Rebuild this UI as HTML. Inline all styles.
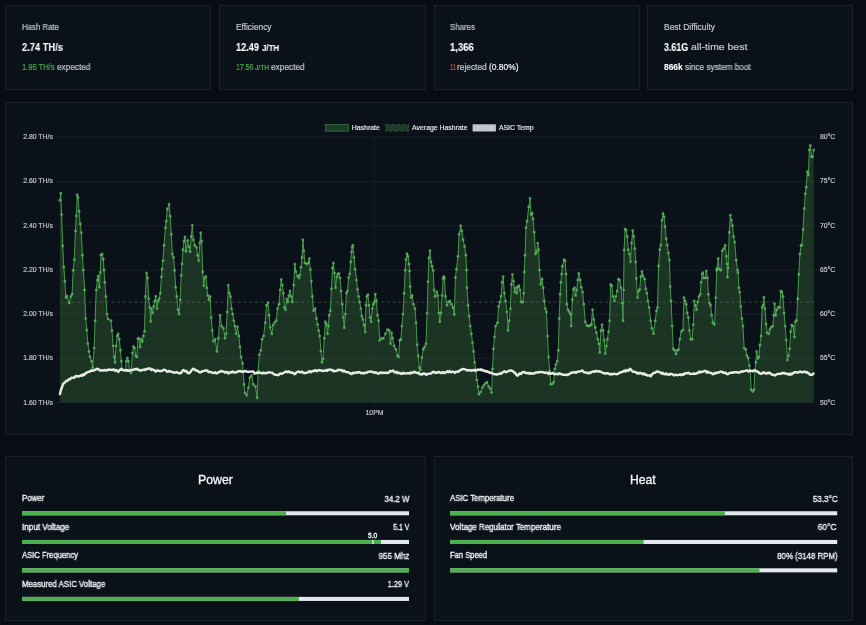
<!DOCTYPE html>
<html lang="en"><head><meta charset="utf-8"><title>AxeOS Dashboard</title>
<style>
html,body{margin:0;padding:0;}
body{width:866px;height:625px;overflow:hidden;background:#070c15;position:relative;font-family:"Liberation Sans",sans-serif;}
.card{position:absolute;box-sizing:border-box;background:#0b1119;border:1px solid #1a212c;border-radius:0;}
.tx{position:absolute;white-space:nowrap;line-height:1;display:block;-webkit-text-stroke:0.18px currentColor;will-change:transform;}
.chart{position:absolute;left:0;top:0;will-change:transform;}
.chart text{font-family:"Liberation Sans",sans-serif;stroke-width:0.18px;}
.bar{position:absolute;background:#e4e8ec;overflow:hidden;}
.bar .fill{position:absolute;left:0;top:0;bottom:0;background:#4caf50;}
.bar .tick{position:absolute;top:0;bottom:0;width:1.4px;background:#d9f2da;}
</style></head><body>

<div class="card" style="left:5.0px;top:5px;width:206.0px;height:85px"></div>
<div class="card" style="left:219.0px;top:5px;width:207.0px;height:85px"></div>
<div class="card" style="left:434.0px;top:5px;width:206.0px;height:85px"></div>
<div class="card" style="left:647.0px;top:5px;width:206.0px;height:85px"></div>
<div class="card" style="left:5px;top:102px;width:848px;height:333px"></div>
<div class="card" style="left:5px;top:456px;width:421px;height:165px"></div>
<div class="card" style="left:434px;top:456px;width:419px;height:165px"></div>
<svg class="chart" width="866" height="625" viewBox="0 0 866 625">
<line x1="55.3" y1="137.20" x2="818.6" y2="137.20" stroke="#19212b" stroke-width="0.8"/>
<line x1="55.3" y1="181.43" x2="818.6" y2="181.43" stroke="#19212b" stroke-width="0.8"/>
<line x1="55.3" y1="225.67" x2="818.6" y2="225.67" stroke="#19212b" stroke-width="0.8"/>
<line x1="55.3" y1="269.90" x2="818.6" y2="269.90" stroke="#19212b" stroke-width="0.8"/>
<line x1="55.3" y1="314.13" x2="818.6" y2="314.13" stroke="#19212b" stroke-width="0.8"/>
<line x1="55.3" y1="358.37" x2="818.6" y2="358.37" stroke="#19212b" stroke-width="0.8"/>
<line x1="55.3" y1="402.60" x2="818.6" y2="402.60" stroke="#19212b" stroke-width="0.8"/>
<line x1="374.3" y1="137.2" x2="374.3" y2="407.2" stroke="#19212b" stroke-width="0.8"/>
<path d="M59.9,402.6 L59.9,200.3 L60.8,193.3 L61.6,214.6 L62.7,246.0 L63.8,267.2 L64.9,281.2 L66.0,297.6 L67.0,296.0 L69.3,303.0 L70.8,296.5 L72.1,294.3 L73.2,270.3 L74.3,259.6 L75.4,231.0 L76.3,215.7 L77.2,194.8 L78.0,197.5 L79.1,211.3 L80.2,224.0 L81.3,232.6 L82.4,255.2 L83.3,270.0 L84.6,290.0 L85.7,318.5 L86.8,329.9 L87.9,343.7 L89.0,351.4 L90.1,356.9 L91.6,361.2 L92.7,367.8 L94.1,348.1 L95.1,320.7 L96.2,290.0 L97.3,280.0 L98.2,276.0 L99.3,287.3 L100.2,272.5 L101.0,255.0 L102.2,254.0 L103.3,259.0 L104.0,270.0 L104.8,282.3 L105.9,296.5 L107.0,314.1 L108.1,318.9 L111.0,320.7 L112.0,330.5 L113.1,345.9 L114.2,356.9 L115.1,362.3 L116.0,345.9 L117.1,336.0 L118.2,333.8 L119.3,339.3 L120.4,350.3 L121.3,361.2 L122.4,370.0 L125.2,370.0 L126.3,361.2 L127.4,358.0 L128.5,361.2 L129.6,370.0 L131.1,372.9 L132.4,353.1 L133.5,346.5 L134.6,348.1 L135.7,355.8 L136.8,356.9 L137.9,338.6 L139.0,338.2 L140.1,347.0 L141.2,339.3 L142.3,341.5 L143.4,336.0 L144.5,331.2 L145.4,296.5 L146.5,273.0 L147.6,277.9 L148.7,298.7 L149.8,307.5 L150.7,321.3 L151.5,308.6 L152.6,313.0 L153.7,306.4 L154.8,300.9 L155.9,296.1 L157.0,308.6 L158.1,300.9 L159.2,298.7 L160.3,293.2 L161.4,276.8 L162.0,269.0 L163.0,260.7 L164.0,245.3 L165.4,227.8 L166.2,221.2 L167.3,209.1 L169.1,204.1 L170.2,216.3 L171.3,234.3 L172.4,254.1 L173.5,257.4 L174.6,270.3 L175.7,287.3 L176.8,296.5 L177.9,309.7 L179.0,314.1 L180.1,299.8 L181.2,275.4 L182.0,264.0 L182.9,249.7 L184.0,241.0 L184.9,237.0 L186.0,251.2 L187.7,240.3 L188.8,246.8 L190.1,251.9 L191.2,236.5 L192.3,225.1 L193.4,239.8 L194.8,245.3 L196.5,247.5 L197.6,255.2 L198.7,260.7 L199.8,243.1 L200.7,232.8 L201.6,241.0 L202.7,271.8 L203.8,285.6 L204.6,277.9 L205.9,276.5 L206.8,287.7 L207.9,295.4 L209.0,299.8 L210.1,296.5 L211.2,317.4 L212.3,330.5 L213.4,341.5 L215.2,339.3 L216.9,351.4 L218.4,338.2 L220.0,315.2 L221.7,326.1 L223.5,328.3 L225.0,338.2 L226.1,333.8 L227.2,311.9 L228.3,285.1 L229.4,293.2 L230.5,296.5 L231.6,308.6 L232.7,314.1 L233.8,320.7 L234.9,326.1 L236.2,333.8 L237.5,326.8 L238.9,336.0 L240.0,347.0 L241.0,356.9 L242.6,363.4 L244.1,384.3 L245.0,393.0 L246.8,395.2 L248.3,387.6 L249.8,377.7 L251.6,375.5 L253.3,384.3 L255.5,386.5 L257.1,397.9 L258.2,371.1 L259.3,354.7 L260.8,350.3 L262.1,339.3 L263.6,336.0 L265.2,322.8 L266.5,305.3 L268.0,302.7 L269.1,315.2 L270.2,327.2 L271.8,333.8 L273.1,325.0 L274.6,322.4 L276.2,320.7 L277.5,308.6 L279.0,304.2 L280.1,289.9 L281.2,279.4 L282.3,285.1 L283.4,293.2 L284.5,307.5 L285.6,309.7 L286.7,298.7 L287.8,302.0 L288.9,295.4 L290.0,291.0 L291.1,296.5 L292.4,302.0 L293.7,285.0 L294.8,264.0 L295.9,271.6 L297.7,276.2 L299.0,278.0 L299.8,275.0 L300.9,267.3 L302.0,257.4 L302.9,239.8 L303.8,250.8 L304.9,262.9 L306.9,264.0 L308.2,262.9 L309.3,258.5 L310.4,269.6 L311.3,281.2 L312.4,296.5 L313.5,310.8 L315.2,308.6 L316.5,318.5 L317.6,324.6 L318.7,330.5 L319.8,336.0 L320.9,350.9 L322.0,362.3 L323.1,359.0 L324.2,338.2 L325.3,321.8 L326.4,324.0 L327.5,333.8 L328.4,326.1 L329.2,315.2 L330.3,310.8 L331.4,288.8 L332.5,268.0 L333.4,262.9 L334.5,273.0 L335.6,287.7 L336.7,276.8 L337.8,274.0 L338.9,273.5 L340.0,277.9 L341.1,291.0 L342.2,304.2 L343.3,317.4 L344.2,327.7 L345.3,314.1 L346.4,293.2 L347.5,291.0 L348.6,277.5 L349.7,274.0 L350.7,262.0 L351.5,252.0 L352.1,247.5 L352.9,245.3 L354.0,257.4 L355.2,269.3 L356.5,280.1 L357.6,289.5 L358.6,296.5 L359.7,302.0 L360.8,308.6 L361.9,316.3 L363.0,319.6 L364.1,325.0 L365.2,332.1 L365.9,305.3 L366.8,296.5 L367.9,294.8 L369.0,305.3 L370.1,317.4 L371.2,321.8 L372.2,308.6 L373.3,304.2 L374.4,302.0 L375.3,294.3 L376.4,300.5 L377.5,315.2 L378.6,320.7 L379.7,340.4 L381.5,338.2 L383.2,338.6 L385.4,333.8 L387.6,329.4 L389.4,330.5 L390.5,343.7 L391.6,332.7 L392.7,338.2 L394.2,345.9 L395.9,349.2 L397.5,355.8 L398.6,356.9 L399.7,340.4 L400.8,339.3 L401.9,326.1 L403.0,314.1 L404.1,293.2 L405.2,270.3 L406.0,259.6 L406.9,253.6 L408.0,256.3 L409.1,264.0 L409.6,271.0 L410.2,286.6 L411.1,297.6 L412.2,295.4 L413.5,304.2 L415.0,308.6 L416.1,322.8 L417.2,344.8 L418.3,355.8 L419.4,367.8 L420.5,370.0 L421.8,357.5 L423.2,349.2 L424.5,347.0 L426.0,343.7 L427.1,313.0 L428.0,281.6 L428.9,258.0 L430.0,250.8 L431.0,261.8 L432.1,266.2 L433.2,270.5 L434.1,289.9 L435.0,296.5 L436.8,291.7 L437.9,295.4 L438.9,313.0 L439.8,321.8 L440.9,313.0 L442.0,295.4 L443.1,278.5 L443.8,276.5 L444.4,277.9 L445.5,296.5 L447.1,305.3 L448.6,302.0 L449.9,300.9 L451.5,304.2 L453.0,307.5 L454.3,314.5 L455.4,277.5 L456.4,269.2 L458.0,256.3 L459.1,234.3 L460.7,225.6 L461.8,231.0 L463.1,239.8 L464.6,246.4 L465.9,255.2 L466.6,270.0 L467.0,287.7 L468.1,305.3 L469.2,316.3 L470.3,326.1 L471.4,333.8 L472.5,342.6 L473.6,351.4 L474.7,362.3 L475.8,371.1 L476.9,379.9 L478.0,386.5 L478.9,394.2 L480.6,392.0 L482.2,387.6 L483.7,385.4 L485.5,383.2 L487.2,382.1 L488.7,386.5 L490.3,388.7 L491.6,392.6 L492.5,368.9 L493.4,348.7 L494.5,337.1 L495.5,326.1 L497.5,322.8 L498.6,306.4 L499.9,302.0 L501.0,296.1 L502.1,282.3 L503.2,276.6 L504.3,293.2 L505.6,300.9 L507.0,311.9 L508.1,330.5 L509.2,320.7 L510.3,308.6 L511.3,284.5 L512.4,274.4 L513.5,281.2 L514.6,292.1 L515.7,287.7 L516.8,293.2 L517.9,286.6 L519.0,285.6 L520.1,289.9 L521.2,302.0 L522.8,302.0 L523.7,293.2 L524.3,272.0 L525.0,255.2 L526.0,227.8 L527.1,221.2 L528.7,206.9 L530.0,198.1 L531.1,214.6 L532.2,213.0 L533.1,219.0 L534.2,232.2 L535.5,254.1 L536.6,251.9 L537.7,243.1 L538.6,249.7 L539.5,270.0 L540.7,284.5 L542.1,279.0 L543.2,287.7 L544.3,300.9 L545.4,308.6 L546.5,311.9 L547.5,336.0 L548.6,356.9 L549.7,371.1 L550.8,384.3 L552.4,383.8 L553.7,382.1 L554.8,368.9 L555.9,364.5 L557.2,361.2 L558.3,350.3 L559.2,318.5 L560.1,294.3 L560.9,282.3 L561.6,274.0 L562.3,266.2 L564.0,259.6 L565.1,260.7 L566.0,274.0 L566.9,304.2 L568.0,309.7 L569.3,311.9 L570.6,314.1 L571.2,326.1 L572.3,299.8 L573.4,289.5 L574.5,287.7 L575.6,295.4 L576.7,289.9 L577.8,280.0 L578.8,273.5 L580.2,280.0 L581.3,287.3 L582.7,292.1 L583.8,304.2 L585.3,321.8 L587.0,325.5 L588.6,326.1 L590.3,325.5 L591.4,324.0 L592.5,309.7 L593.8,319.6 L595.2,327.2 L596.5,332.7 L597.8,339.3 L598.9,343.7 L599.8,352.5 L600.9,330.5 L602.0,324.6 L603.1,330.5 L604.2,340.4 L605.3,353.6 L606.4,345.9 L607.4,339.3 L608.5,331.6 L609.6,320.7 L610.7,284.5 L611.8,285.6 L613.1,296.5 L614.5,300.9 L615.8,296.5 L617.1,291.0 L618.4,279.0 L619.7,280.1 L621.0,287.7 L622.1,303.1 L623.0,320.7 L623.6,289.9 L624.1,250.0 L625.0,228.9 L626.1,230.0 L627.2,236.5 L628.3,249.7 L629.4,254.1 L630.5,261.8 L631.6,243.1 L632.7,230.4 L633.8,236.5 L634.9,248.6 L635.7,262.0 L636.4,278.5 L637.5,297.6 L638.6,291.0 L639.7,289.5 L640.8,276.8 L641.9,271.4 L643.0,275.7 L644.7,279.0 L645.8,288.8 L646.9,293.2 L648.0,300.9 L649.1,307.5 L650.7,320.7 L652.0,328.3 L653.5,333.8 L655.3,320.7 L656.4,310.8 L657.5,307.5 L658.6,266.0 L659.7,249.7 L660.8,245.3 L661.9,220.1 L663.0,213.5 L664.1,216.8 L665.1,226.7 L666.2,238.7 L667.3,245.3 L668.4,253.0 L669.5,260.0 L670.2,286.6 L671.1,300.9 L672.2,326.1 L673.3,348.7 L674.6,350.3 L675.9,354.0 L677.2,350.3 L678.5,349.6 L679.8,339.3 L681.2,331.6 L682.9,329.9 L684.0,297.6 L685.1,300.9 L686.2,304.2 L687.3,313.0 L688.4,317.4 L689.5,330.5 L690.8,339.3 L692.1,339.3 L693.2,324.6 L694.3,300.9 L695.4,305.3 L696.5,309.7 L697.6,302.0 L698.9,296.5 L700.3,294.3 L701.1,282.3 L702.2,274.0 L702.9,272.7 L703.5,277.9 L705.1,277.9 L706.3,270.9 L707.5,277.9 L708.4,294.3 L709.5,303.1 L710.6,305.3 L711.7,315.2 L712.8,322.8 L714.5,324.6 L715.8,297.6 L716.7,270.2 L717.1,268.3 L718.2,258.5 L719.3,269.2 L720.9,270.3 L722.2,250.8 L723.7,248.6 L725.3,245.3 L726.4,256.3 L727.1,264.0 L727.5,277.2 L728.1,268.0 L729.2,232.2 L730.3,215.3 L731.4,220.1 L732.5,225.6 L733.6,236.5 L734.7,242.0 L736.2,260.2 L737.5,270.0 L738.0,272.4 L738.9,287.7 L739.7,292.1 L740.8,306.4 L741.9,318.5 L743.0,326.1 L744.1,348.1 L745.7,349.2 L747.0,355.8 L748.3,358.0 L749.4,365.6 L750.3,371.1 L751.2,389.8 L752.7,391.5 L754.0,389.8 L754.9,370.0 L755.8,362.3 L756.6,351.4 L757.9,358.4 L759.0,356.9 L759.9,345.2 L761.0,336.0 L762.1,307.5 L763.0,305.3 L763.9,297.2 L765.0,308.6 L766.1,324.0 L767.2,332.7 L768.7,333.8 L769.8,329.4 L771.1,327.2 L772.7,326.1 L773.8,315.2 L774.6,303.8 L775.7,315.2 L776.8,309.7 L778.1,307.1 L779.9,307.5 L780.8,291.0 L781.9,292.1 L783.0,296.5 L784.1,313.0 L785.2,326.1 L786.3,340.0 L787.4,360.1 L788.5,355.8 L789.6,348.7 L790.6,331.6 L791.7,325.0 L793.1,326.1 L794.4,337.1 L795.3,321.8 L796.6,320.2 L797.7,298.7 L798.8,274.2 L799.9,254.1 L801.0,245.3 L801.8,245.3 L803.1,229.5 L804.2,208.5 L805.3,193.8 L806.2,187.2 L807.3,171.8 L808.4,175.1 L809.3,149.9 L810.4,145.5 L811.5,156.5 L812.6,157.1 L813.7,149.9 L813.7,402.6 Z" fill="#58b24c" fill-opacity="0.22"/>
<line x1="59.9" y1="302.2" x2="814.0" y2="302.2" stroke="#7e9384" stroke-opacity="0.66" stroke-width="0.62" stroke-dasharray="2.87 2.87"/>
<path d="M59.9,200.3 L60.8,193.3 L61.6,214.6 L62.7,246.0 L63.8,267.2 L64.9,281.2 L66.0,297.6 L67.0,296.0 L69.3,303.0 L70.8,296.5 L72.1,294.3 L73.2,270.3 L74.3,259.6 L75.4,231.0 L76.3,215.7 L77.2,194.8 L78.0,197.5 L79.1,211.3 L80.2,224.0 L81.3,232.6 L82.4,255.2 L83.3,270.0 L84.6,290.0 L85.7,318.5 L86.8,329.9 L87.9,343.7 L89.0,351.4 L90.1,356.9 L91.6,361.2 L92.7,367.8 L94.1,348.1 L95.1,320.7 L96.2,290.0 L97.3,280.0 L98.2,276.0 L99.3,287.3 L100.2,272.5 L101.0,255.0 L102.2,254.0 L103.3,259.0 L104.0,270.0 L104.8,282.3 L105.9,296.5 L107.0,314.1 L108.1,318.9 L111.0,320.7 L112.0,330.5 L113.1,345.9 L114.2,356.9 L115.1,362.3 L116.0,345.9 L117.1,336.0 L118.2,333.8 L119.3,339.3 L120.4,350.3 L121.3,361.2 L122.4,370.0 L125.2,370.0 L126.3,361.2 L127.4,358.0 L128.5,361.2 L129.6,370.0 L131.1,372.9 L132.4,353.1 L133.5,346.5 L134.6,348.1 L135.7,355.8 L136.8,356.9 L137.9,338.6 L139.0,338.2 L140.1,347.0 L141.2,339.3 L142.3,341.5 L143.4,336.0 L144.5,331.2 L145.4,296.5 L146.5,273.0 L147.6,277.9 L148.7,298.7 L149.8,307.5 L150.7,321.3 L151.5,308.6 L152.6,313.0 L153.7,306.4 L154.8,300.9 L155.9,296.1 L157.0,308.6 L158.1,300.9 L159.2,298.7 L160.3,293.2 L161.4,276.8 L162.0,269.0 L163.0,260.7 L164.0,245.3 L165.4,227.8 L166.2,221.2 L167.3,209.1 L169.1,204.1 L170.2,216.3 L171.3,234.3 L172.4,254.1 L173.5,257.4 L174.6,270.3 L175.7,287.3 L176.8,296.5 L177.9,309.7 L179.0,314.1 L180.1,299.8 L181.2,275.4 L182.0,264.0 L182.9,249.7 L184.0,241.0 L184.9,237.0 L186.0,251.2 L187.7,240.3 L188.8,246.8 L190.1,251.9 L191.2,236.5 L192.3,225.1 L193.4,239.8 L194.8,245.3 L196.5,247.5 L197.6,255.2 L198.7,260.7 L199.8,243.1 L200.7,232.8 L201.6,241.0 L202.7,271.8 L203.8,285.6 L204.6,277.9 L205.9,276.5 L206.8,287.7 L207.9,295.4 L209.0,299.8 L210.1,296.5 L211.2,317.4 L212.3,330.5 L213.4,341.5 L215.2,339.3 L216.9,351.4 L218.4,338.2 L220.0,315.2 L221.7,326.1 L223.5,328.3 L225.0,338.2 L226.1,333.8 L227.2,311.9 L228.3,285.1 L229.4,293.2 L230.5,296.5 L231.6,308.6 L232.7,314.1 L233.8,320.7 L234.9,326.1 L236.2,333.8 L237.5,326.8 L238.9,336.0 L240.0,347.0 L241.0,356.9 L242.6,363.4 L244.1,384.3 L245.0,393.0 L246.8,395.2 L248.3,387.6 L249.8,377.7 L251.6,375.5 L253.3,384.3 L255.5,386.5 L257.1,397.9 L258.2,371.1 L259.3,354.7 L260.8,350.3 L262.1,339.3 L263.6,336.0 L265.2,322.8 L266.5,305.3 L268.0,302.7 L269.1,315.2 L270.2,327.2 L271.8,333.8 L273.1,325.0 L274.6,322.4 L276.2,320.7 L277.5,308.6 L279.0,304.2 L280.1,289.9 L281.2,279.4 L282.3,285.1 L283.4,293.2 L284.5,307.5 L285.6,309.7 L286.7,298.7 L287.8,302.0 L288.9,295.4 L290.0,291.0 L291.1,296.5 L292.4,302.0 L293.7,285.0 L294.8,264.0 L295.9,271.6 L297.7,276.2 L299.0,278.0 L299.8,275.0 L300.9,267.3 L302.0,257.4 L302.9,239.8 L303.8,250.8 L304.9,262.9 L306.9,264.0 L308.2,262.9 L309.3,258.5 L310.4,269.6 L311.3,281.2 L312.4,296.5 L313.5,310.8 L315.2,308.6 L316.5,318.5 L317.6,324.6 L318.7,330.5 L319.8,336.0 L320.9,350.9 L322.0,362.3 L323.1,359.0 L324.2,338.2 L325.3,321.8 L326.4,324.0 L327.5,333.8 L328.4,326.1 L329.2,315.2 L330.3,310.8 L331.4,288.8 L332.5,268.0 L333.4,262.9 L334.5,273.0 L335.6,287.7 L336.7,276.8 L337.8,274.0 L338.9,273.5 L340.0,277.9 L341.1,291.0 L342.2,304.2 L343.3,317.4 L344.2,327.7 L345.3,314.1 L346.4,293.2 L347.5,291.0 L348.6,277.5 L349.7,274.0 L350.7,262.0 L351.5,252.0 L352.1,247.5 L352.9,245.3 L354.0,257.4 L355.2,269.3 L356.5,280.1 L357.6,289.5 L358.6,296.5 L359.7,302.0 L360.8,308.6 L361.9,316.3 L363.0,319.6 L364.1,325.0 L365.2,332.1 L365.9,305.3 L366.8,296.5 L367.9,294.8 L369.0,305.3 L370.1,317.4 L371.2,321.8 L372.2,308.6 L373.3,304.2 L374.4,302.0 L375.3,294.3 L376.4,300.5 L377.5,315.2 L378.6,320.7 L379.7,340.4 L381.5,338.2 L383.2,338.6 L385.4,333.8 L387.6,329.4 L389.4,330.5 L390.5,343.7 L391.6,332.7 L392.7,338.2 L394.2,345.9 L395.9,349.2 L397.5,355.8 L398.6,356.9 L399.7,340.4 L400.8,339.3 L401.9,326.1 L403.0,314.1 L404.1,293.2 L405.2,270.3 L406.0,259.6 L406.9,253.6 L408.0,256.3 L409.1,264.0 L409.6,271.0 L410.2,286.6 L411.1,297.6 L412.2,295.4 L413.5,304.2 L415.0,308.6 L416.1,322.8 L417.2,344.8 L418.3,355.8 L419.4,367.8 L420.5,370.0 L421.8,357.5 L423.2,349.2 L424.5,347.0 L426.0,343.7 L427.1,313.0 L428.0,281.6 L428.9,258.0 L430.0,250.8 L431.0,261.8 L432.1,266.2 L433.2,270.5 L434.1,289.9 L435.0,296.5 L436.8,291.7 L437.9,295.4 L438.9,313.0 L439.8,321.8 L440.9,313.0 L442.0,295.4 L443.1,278.5 L443.8,276.5 L444.4,277.9 L445.5,296.5 L447.1,305.3 L448.6,302.0 L449.9,300.9 L451.5,304.2 L453.0,307.5 L454.3,314.5 L455.4,277.5 L456.4,269.2 L458.0,256.3 L459.1,234.3 L460.7,225.6 L461.8,231.0 L463.1,239.8 L464.6,246.4 L465.9,255.2 L466.6,270.0 L467.0,287.7 L468.1,305.3 L469.2,316.3 L470.3,326.1 L471.4,333.8 L472.5,342.6 L473.6,351.4 L474.7,362.3 L475.8,371.1 L476.9,379.9 L478.0,386.5 L478.9,394.2 L480.6,392.0 L482.2,387.6 L483.7,385.4 L485.5,383.2 L487.2,382.1 L488.7,386.5 L490.3,388.7 L491.6,392.6 L492.5,368.9 L493.4,348.7 L494.5,337.1 L495.5,326.1 L497.5,322.8 L498.6,306.4 L499.9,302.0 L501.0,296.1 L502.1,282.3 L503.2,276.6 L504.3,293.2 L505.6,300.9 L507.0,311.9 L508.1,330.5 L509.2,320.7 L510.3,308.6 L511.3,284.5 L512.4,274.4 L513.5,281.2 L514.6,292.1 L515.7,287.7 L516.8,293.2 L517.9,286.6 L519.0,285.6 L520.1,289.9 L521.2,302.0 L522.8,302.0 L523.7,293.2 L524.3,272.0 L525.0,255.2 L526.0,227.8 L527.1,221.2 L528.7,206.9 L530.0,198.1 L531.1,214.6 L532.2,213.0 L533.1,219.0 L534.2,232.2 L535.5,254.1 L536.6,251.9 L537.7,243.1 L538.6,249.7 L539.5,270.0 L540.7,284.5 L542.1,279.0 L543.2,287.7 L544.3,300.9 L545.4,308.6 L546.5,311.9 L547.5,336.0 L548.6,356.9 L549.7,371.1 L550.8,384.3 L552.4,383.8 L553.7,382.1 L554.8,368.9 L555.9,364.5 L557.2,361.2 L558.3,350.3 L559.2,318.5 L560.1,294.3 L560.9,282.3 L561.6,274.0 L562.3,266.2 L564.0,259.6 L565.1,260.7 L566.0,274.0 L566.9,304.2 L568.0,309.7 L569.3,311.9 L570.6,314.1 L571.2,326.1 L572.3,299.8 L573.4,289.5 L574.5,287.7 L575.6,295.4 L576.7,289.9 L577.8,280.0 L578.8,273.5 L580.2,280.0 L581.3,287.3 L582.7,292.1 L583.8,304.2 L585.3,321.8 L587.0,325.5 L588.6,326.1 L590.3,325.5 L591.4,324.0 L592.5,309.7 L593.8,319.6 L595.2,327.2 L596.5,332.7 L597.8,339.3 L598.9,343.7 L599.8,352.5 L600.9,330.5 L602.0,324.6 L603.1,330.5 L604.2,340.4 L605.3,353.6 L606.4,345.9 L607.4,339.3 L608.5,331.6 L609.6,320.7 L610.7,284.5 L611.8,285.6 L613.1,296.5 L614.5,300.9 L615.8,296.5 L617.1,291.0 L618.4,279.0 L619.7,280.1 L621.0,287.7 L622.1,303.1 L623.0,320.7 L623.6,289.9 L624.1,250.0 L625.0,228.9 L626.1,230.0 L627.2,236.5 L628.3,249.7 L629.4,254.1 L630.5,261.8 L631.6,243.1 L632.7,230.4 L633.8,236.5 L634.9,248.6 L635.7,262.0 L636.4,278.5 L637.5,297.6 L638.6,291.0 L639.7,289.5 L640.8,276.8 L641.9,271.4 L643.0,275.7 L644.7,279.0 L645.8,288.8 L646.9,293.2 L648.0,300.9 L649.1,307.5 L650.7,320.7 L652.0,328.3 L653.5,333.8 L655.3,320.7 L656.4,310.8 L657.5,307.5 L658.6,266.0 L659.7,249.7 L660.8,245.3 L661.9,220.1 L663.0,213.5 L664.1,216.8 L665.1,226.7 L666.2,238.7 L667.3,245.3 L668.4,253.0 L669.5,260.0 L670.2,286.6 L671.1,300.9 L672.2,326.1 L673.3,348.7 L674.6,350.3 L675.9,354.0 L677.2,350.3 L678.5,349.6 L679.8,339.3 L681.2,331.6 L682.9,329.9 L684.0,297.6 L685.1,300.9 L686.2,304.2 L687.3,313.0 L688.4,317.4 L689.5,330.5 L690.8,339.3 L692.1,339.3 L693.2,324.6 L694.3,300.9 L695.4,305.3 L696.5,309.7 L697.6,302.0 L698.9,296.5 L700.3,294.3 L701.1,282.3 L702.2,274.0 L702.9,272.7 L703.5,277.9 L705.1,277.9 L706.3,270.9 L707.5,277.9 L708.4,294.3 L709.5,303.1 L710.6,305.3 L711.7,315.2 L712.8,322.8 L714.5,324.6 L715.8,297.6 L716.7,270.2 L717.1,268.3 L718.2,258.5 L719.3,269.2 L720.9,270.3 L722.2,250.8 L723.7,248.6 L725.3,245.3 L726.4,256.3 L727.1,264.0 L727.5,277.2 L728.1,268.0 L729.2,232.2 L730.3,215.3 L731.4,220.1 L732.5,225.6 L733.6,236.5 L734.7,242.0 L736.2,260.2 L737.5,270.0 L738.0,272.4 L738.9,287.7 L739.7,292.1 L740.8,306.4 L741.9,318.5 L743.0,326.1 L744.1,348.1 L745.7,349.2 L747.0,355.8 L748.3,358.0 L749.4,365.6 L750.3,371.1 L751.2,389.8 L752.7,391.5 L754.0,389.8 L754.9,370.0 L755.8,362.3 L756.6,351.4 L757.9,358.4 L759.0,356.9 L759.9,345.2 L761.0,336.0 L762.1,307.5 L763.0,305.3 L763.9,297.2 L765.0,308.6 L766.1,324.0 L767.2,332.7 L768.7,333.8 L769.8,329.4 L771.1,327.2 L772.7,326.1 L773.8,315.2 L774.6,303.8 L775.7,315.2 L776.8,309.7 L778.1,307.1 L779.9,307.5 L780.8,291.0 L781.9,292.1 L783.0,296.5 L784.1,313.0 L785.2,326.1 L786.3,340.0 L787.4,360.1 L788.5,355.8 L789.6,348.7 L790.6,331.6 L791.7,325.0 L793.1,326.1 L794.4,337.1 L795.3,321.8 L796.6,320.2 L797.7,298.7 L798.8,274.2 L799.9,254.1 L801.0,245.3 L801.8,245.3 L803.1,229.5 L804.2,208.5 L805.3,193.8 L806.2,187.2 L807.3,171.8 L808.4,175.1 L809.3,149.9 L810.4,145.5 L811.5,156.5 L812.6,157.1 L813.7,149.9" fill="none" stroke="#4caf50" stroke-opacity="0.85" stroke-width="1.0" stroke-linejoin="round"/>
<g fill="#5cb860" fill-opacity="0.75" stroke="#74c878" stroke-opacity="0.65" stroke-width="0.4">
<circle cx="59.9" cy="200.3" r="1.2"/>
<circle cx="60.8" cy="193.3" r="1.2"/>
<circle cx="61.6" cy="214.6" r="1.2"/>
<circle cx="62.7" cy="246.0" r="1.2"/>
<circle cx="63.8" cy="267.2" r="1.2"/>
<circle cx="64.9" cy="281.2" r="1.2"/>
<circle cx="66.0" cy="297.6" r="1.2"/>
<circle cx="67.0" cy="296.0" r="1.2"/>
<circle cx="69.3" cy="303.0" r="1.2"/>
<circle cx="70.8" cy="296.5" r="1.2"/>
<circle cx="72.1" cy="294.3" r="1.2"/>
<circle cx="73.2" cy="270.3" r="1.2"/>
<circle cx="74.3" cy="259.6" r="1.2"/>
<circle cx="75.4" cy="231.0" r="1.2"/>
<circle cx="76.3" cy="215.7" r="1.2"/>
<circle cx="77.2" cy="194.8" r="1.2"/>
<circle cx="78.0" cy="197.5" r="1.2"/>
<circle cx="79.1" cy="211.3" r="1.2"/>
<circle cx="80.2" cy="224.0" r="1.2"/>
<circle cx="81.3" cy="232.6" r="1.2"/>
<circle cx="82.4" cy="255.2" r="1.2"/>
<circle cx="83.3" cy="270.0" r="1.2"/>
<circle cx="84.6" cy="290.0" r="1.2"/>
<circle cx="85.7" cy="318.5" r="1.2"/>
<circle cx="86.8" cy="329.9" r="1.2"/>
<circle cx="87.9" cy="343.7" r="1.2"/>
<circle cx="89.0" cy="351.4" r="1.2"/>
<circle cx="90.1" cy="356.9" r="1.2"/>
<circle cx="91.6" cy="361.2" r="1.2"/>
<circle cx="92.7" cy="367.8" r="1.2"/>
<circle cx="94.1" cy="348.1" r="1.2"/>
<circle cx="95.1" cy="320.7" r="1.2"/>
<circle cx="96.2" cy="290.0" r="1.2"/>
<circle cx="97.3" cy="280.0" r="1.2"/>
<circle cx="98.2" cy="276.0" r="1.2"/>
<circle cx="99.3" cy="287.3" r="1.2"/>
<circle cx="100.2" cy="272.5" r="1.2"/>
<circle cx="101.0" cy="255.0" r="1.2"/>
<circle cx="102.2" cy="254.0" r="1.2"/>
<circle cx="103.3" cy="259.0" r="1.2"/>
<circle cx="104.0" cy="270.0" r="1.2"/>
<circle cx="104.8" cy="282.3" r="1.2"/>
<circle cx="105.9" cy="296.5" r="1.2"/>
<circle cx="107.0" cy="314.1" r="1.2"/>
<circle cx="108.1" cy="318.9" r="1.2"/>
<circle cx="111.0" cy="320.7" r="1.2"/>
<circle cx="112.0" cy="330.5" r="1.2"/>
<circle cx="113.1" cy="345.9" r="1.2"/>
<circle cx="114.2" cy="356.9" r="1.2"/>
<circle cx="115.1" cy="362.3" r="1.2"/>
<circle cx="116.0" cy="345.9" r="1.2"/>
<circle cx="117.1" cy="336.0" r="1.2"/>
<circle cx="118.2" cy="333.8" r="1.2"/>
<circle cx="119.3" cy="339.3" r="1.2"/>
<circle cx="120.4" cy="350.3" r="1.2"/>
<circle cx="121.3" cy="361.2" r="1.2"/>
<circle cx="122.4" cy="370.0" r="1.2"/>
<circle cx="125.2" cy="370.0" r="1.2"/>
<circle cx="126.3" cy="361.2" r="1.2"/>
<circle cx="127.4" cy="358.0" r="1.2"/>
<circle cx="128.5" cy="361.2" r="1.2"/>
<circle cx="129.6" cy="370.0" r="1.2"/>
<circle cx="131.1" cy="372.9" r="1.2"/>
<circle cx="132.4" cy="353.1" r="1.2"/>
<circle cx="133.5" cy="346.5" r="1.2"/>
<circle cx="134.6" cy="348.1" r="1.2"/>
<circle cx="135.7" cy="355.8" r="1.2"/>
<circle cx="136.8" cy="356.9" r="1.2"/>
<circle cx="137.9" cy="338.6" r="1.2"/>
<circle cx="139.0" cy="338.2" r="1.2"/>
<circle cx="140.1" cy="347.0" r="1.2"/>
<circle cx="141.2" cy="339.3" r="1.2"/>
<circle cx="142.3" cy="341.5" r="1.2"/>
<circle cx="143.4" cy="336.0" r="1.2"/>
<circle cx="144.5" cy="331.2" r="1.2"/>
<circle cx="145.4" cy="296.5" r="1.2"/>
<circle cx="146.5" cy="273.0" r="1.2"/>
<circle cx="147.6" cy="277.9" r="1.2"/>
<circle cx="148.7" cy="298.7" r="1.2"/>
<circle cx="149.8" cy="307.5" r="1.2"/>
<circle cx="150.7" cy="321.3" r="1.2"/>
<circle cx="151.5" cy="308.6" r="1.2"/>
<circle cx="152.6" cy="313.0" r="1.2"/>
<circle cx="153.7" cy="306.4" r="1.2"/>
<circle cx="154.8" cy="300.9" r="1.2"/>
<circle cx="155.9" cy="296.1" r="1.2"/>
<circle cx="157.0" cy="308.6" r="1.2"/>
<circle cx="158.1" cy="300.9" r="1.2"/>
<circle cx="159.2" cy="298.7" r="1.2"/>
<circle cx="160.3" cy="293.2" r="1.2"/>
<circle cx="161.4" cy="276.8" r="1.2"/>
<circle cx="162.0" cy="269.0" r="1.2"/>
<circle cx="163.0" cy="260.7" r="1.2"/>
<circle cx="164.0" cy="245.3" r="1.2"/>
<circle cx="165.4" cy="227.8" r="1.2"/>
<circle cx="166.2" cy="221.2" r="1.2"/>
<circle cx="167.3" cy="209.1" r="1.2"/>
<circle cx="169.1" cy="204.1" r="1.2"/>
<circle cx="170.2" cy="216.3" r="1.2"/>
<circle cx="171.3" cy="234.3" r="1.2"/>
<circle cx="172.4" cy="254.1" r="1.2"/>
<circle cx="173.5" cy="257.4" r="1.2"/>
<circle cx="174.6" cy="270.3" r="1.2"/>
<circle cx="175.7" cy="287.3" r="1.2"/>
<circle cx="176.8" cy="296.5" r="1.2"/>
<circle cx="177.9" cy="309.7" r="1.2"/>
<circle cx="179.0" cy="314.1" r="1.2"/>
<circle cx="180.1" cy="299.8" r="1.2"/>
<circle cx="181.2" cy="275.4" r="1.2"/>
<circle cx="182.0" cy="264.0" r="1.2"/>
<circle cx="182.9" cy="249.7" r="1.2"/>
<circle cx="184.0" cy="241.0" r="1.2"/>
<circle cx="184.9" cy="237.0" r="1.2"/>
<circle cx="186.0" cy="251.2" r="1.2"/>
<circle cx="187.7" cy="240.3" r="1.2"/>
<circle cx="188.8" cy="246.8" r="1.2"/>
<circle cx="190.1" cy="251.9" r="1.2"/>
<circle cx="191.2" cy="236.5" r="1.2"/>
<circle cx="192.3" cy="225.1" r="1.2"/>
<circle cx="193.4" cy="239.8" r="1.2"/>
<circle cx="194.8" cy="245.3" r="1.2"/>
<circle cx="196.5" cy="247.5" r="1.2"/>
<circle cx="197.6" cy="255.2" r="1.2"/>
<circle cx="198.7" cy="260.7" r="1.2"/>
<circle cx="199.8" cy="243.1" r="1.2"/>
<circle cx="200.7" cy="232.8" r="1.2"/>
<circle cx="201.6" cy="241.0" r="1.2"/>
<circle cx="202.7" cy="271.8" r="1.2"/>
<circle cx="203.8" cy="285.6" r="1.2"/>
<circle cx="204.6" cy="277.9" r="1.2"/>
<circle cx="205.9" cy="276.5" r="1.2"/>
<circle cx="206.8" cy="287.7" r="1.2"/>
<circle cx="207.9" cy="295.4" r="1.2"/>
<circle cx="209.0" cy="299.8" r="1.2"/>
<circle cx="210.1" cy="296.5" r="1.2"/>
<circle cx="211.2" cy="317.4" r="1.2"/>
<circle cx="212.3" cy="330.5" r="1.2"/>
<circle cx="213.4" cy="341.5" r="1.2"/>
<circle cx="215.2" cy="339.3" r="1.2"/>
<circle cx="216.9" cy="351.4" r="1.2"/>
<circle cx="218.4" cy="338.2" r="1.2"/>
<circle cx="220.0" cy="315.2" r="1.2"/>
<circle cx="221.7" cy="326.1" r="1.2"/>
<circle cx="223.5" cy="328.3" r="1.2"/>
<circle cx="225.0" cy="338.2" r="1.2"/>
<circle cx="226.1" cy="333.8" r="1.2"/>
<circle cx="227.2" cy="311.9" r="1.2"/>
<circle cx="228.3" cy="285.1" r="1.2"/>
<circle cx="229.4" cy="293.2" r="1.2"/>
<circle cx="230.5" cy="296.5" r="1.2"/>
<circle cx="231.6" cy="308.6" r="1.2"/>
<circle cx="232.7" cy="314.1" r="1.2"/>
<circle cx="233.8" cy="320.7" r="1.2"/>
<circle cx="234.9" cy="326.1" r="1.2"/>
<circle cx="236.2" cy="333.8" r="1.2"/>
<circle cx="237.5" cy="326.8" r="1.2"/>
<circle cx="238.9" cy="336.0" r="1.2"/>
<circle cx="240.0" cy="347.0" r="1.2"/>
<circle cx="241.0" cy="356.9" r="1.2"/>
<circle cx="242.6" cy="363.4" r="1.2"/>
<circle cx="244.1" cy="384.3" r="1.2"/>
<circle cx="245.0" cy="393.0" r="1.2"/>
<circle cx="246.8" cy="395.2" r="1.2"/>
<circle cx="248.3" cy="387.6" r="1.2"/>
<circle cx="249.8" cy="377.7" r="1.2"/>
<circle cx="251.6" cy="375.5" r="1.2"/>
<circle cx="253.3" cy="384.3" r="1.2"/>
<circle cx="255.5" cy="386.5" r="1.2"/>
<circle cx="257.1" cy="397.9" r="1.2"/>
<circle cx="258.2" cy="371.1" r="1.2"/>
<circle cx="259.3" cy="354.7" r="1.2"/>
<circle cx="260.8" cy="350.3" r="1.2"/>
<circle cx="262.1" cy="339.3" r="1.2"/>
<circle cx="263.6" cy="336.0" r="1.2"/>
<circle cx="265.2" cy="322.8" r="1.2"/>
<circle cx="266.5" cy="305.3" r="1.2"/>
<circle cx="268.0" cy="302.7" r="1.2"/>
<circle cx="269.1" cy="315.2" r="1.2"/>
<circle cx="270.2" cy="327.2" r="1.2"/>
<circle cx="271.8" cy="333.8" r="1.2"/>
<circle cx="273.1" cy="325.0" r="1.2"/>
<circle cx="274.6" cy="322.4" r="1.2"/>
<circle cx="276.2" cy="320.7" r="1.2"/>
<circle cx="277.5" cy="308.6" r="1.2"/>
<circle cx="279.0" cy="304.2" r="1.2"/>
<circle cx="280.1" cy="289.9" r="1.2"/>
<circle cx="281.2" cy="279.4" r="1.2"/>
<circle cx="282.3" cy="285.1" r="1.2"/>
<circle cx="283.4" cy="293.2" r="1.2"/>
<circle cx="284.5" cy="307.5" r="1.2"/>
<circle cx="285.6" cy="309.7" r="1.2"/>
<circle cx="286.7" cy="298.7" r="1.2"/>
<circle cx="287.8" cy="302.0" r="1.2"/>
<circle cx="288.9" cy="295.4" r="1.2"/>
<circle cx="290.0" cy="291.0" r="1.2"/>
<circle cx="291.1" cy="296.5" r="1.2"/>
<circle cx="292.4" cy="302.0" r="1.2"/>
<circle cx="293.7" cy="285.0" r="1.2"/>
<circle cx="294.8" cy="264.0" r="1.2"/>
<circle cx="295.9" cy="271.6" r="1.2"/>
<circle cx="297.7" cy="276.2" r="1.2"/>
<circle cx="299.0" cy="278.0" r="1.2"/>
<circle cx="299.8" cy="275.0" r="1.2"/>
<circle cx="300.9" cy="267.3" r="1.2"/>
<circle cx="302.0" cy="257.4" r="1.2"/>
<circle cx="302.9" cy="239.8" r="1.2"/>
<circle cx="303.8" cy="250.8" r="1.2"/>
<circle cx="304.9" cy="262.9" r="1.2"/>
<circle cx="306.9" cy="264.0" r="1.2"/>
<circle cx="308.2" cy="262.9" r="1.2"/>
<circle cx="309.3" cy="258.5" r="1.2"/>
<circle cx="310.4" cy="269.6" r="1.2"/>
<circle cx="311.3" cy="281.2" r="1.2"/>
<circle cx="312.4" cy="296.5" r="1.2"/>
<circle cx="313.5" cy="310.8" r="1.2"/>
<circle cx="315.2" cy="308.6" r="1.2"/>
<circle cx="316.5" cy="318.5" r="1.2"/>
<circle cx="317.6" cy="324.6" r="1.2"/>
<circle cx="318.7" cy="330.5" r="1.2"/>
<circle cx="319.8" cy="336.0" r="1.2"/>
<circle cx="320.9" cy="350.9" r="1.2"/>
<circle cx="322.0" cy="362.3" r="1.2"/>
<circle cx="323.1" cy="359.0" r="1.2"/>
<circle cx="324.2" cy="338.2" r="1.2"/>
<circle cx="325.3" cy="321.8" r="1.2"/>
<circle cx="326.4" cy="324.0" r="1.2"/>
<circle cx="327.5" cy="333.8" r="1.2"/>
<circle cx="328.4" cy="326.1" r="1.2"/>
<circle cx="329.2" cy="315.2" r="1.2"/>
<circle cx="330.3" cy="310.8" r="1.2"/>
<circle cx="331.4" cy="288.8" r="1.2"/>
<circle cx="332.5" cy="268.0" r="1.2"/>
<circle cx="333.4" cy="262.9" r="1.2"/>
<circle cx="334.5" cy="273.0" r="1.2"/>
<circle cx="335.6" cy="287.7" r="1.2"/>
<circle cx="336.7" cy="276.8" r="1.2"/>
<circle cx="337.8" cy="274.0" r="1.2"/>
<circle cx="338.9" cy="273.5" r="1.2"/>
<circle cx="340.0" cy="277.9" r="1.2"/>
<circle cx="341.1" cy="291.0" r="1.2"/>
<circle cx="342.2" cy="304.2" r="1.2"/>
<circle cx="343.3" cy="317.4" r="1.2"/>
<circle cx="344.2" cy="327.7" r="1.2"/>
<circle cx="345.3" cy="314.1" r="1.2"/>
<circle cx="346.4" cy="293.2" r="1.2"/>
<circle cx="347.5" cy="291.0" r="1.2"/>
<circle cx="348.6" cy="277.5" r="1.2"/>
<circle cx="349.7" cy="274.0" r="1.2"/>
<circle cx="350.7" cy="262.0" r="1.2"/>
<circle cx="351.5" cy="252.0" r="1.2"/>
<circle cx="352.1" cy="247.5" r="1.2"/>
<circle cx="352.9" cy="245.3" r="1.2"/>
<circle cx="354.0" cy="257.4" r="1.2"/>
<circle cx="355.2" cy="269.3" r="1.2"/>
<circle cx="356.5" cy="280.1" r="1.2"/>
<circle cx="357.6" cy="289.5" r="1.2"/>
<circle cx="358.6" cy="296.5" r="1.2"/>
<circle cx="359.7" cy="302.0" r="1.2"/>
<circle cx="360.8" cy="308.6" r="1.2"/>
<circle cx="361.9" cy="316.3" r="1.2"/>
<circle cx="363.0" cy="319.6" r="1.2"/>
<circle cx="364.1" cy="325.0" r="1.2"/>
<circle cx="365.2" cy="332.1" r="1.2"/>
<circle cx="365.9" cy="305.3" r="1.2"/>
<circle cx="366.8" cy="296.5" r="1.2"/>
<circle cx="367.9" cy="294.8" r="1.2"/>
<circle cx="369.0" cy="305.3" r="1.2"/>
<circle cx="370.1" cy="317.4" r="1.2"/>
<circle cx="371.2" cy="321.8" r="1.2"/>
<circle cx="372.2" cy="308.6" r="1.2"/>
<circle cx="373.3" cy="304.2" r="1.2"/>
<circle cx="374.4" cy="302.0" r="1.2"/>
<circle cx="375.3" cy="294.3" r="1.2"/>
<circle cx="376.4" cy="300.5" r="1.2"/>
<circle cx="377.5" cy="315.2" r="1.2"/>
<circle cx="378.6" cy="320.7" r="1.2"/>
<circle cx="379.7" cy="340.4" r="1.2"/>
<circle cx="381.5" cy="338.2" r="1.2"/>
<circle cx="383.2" cy="338.6" r="1.2"/>
<circle cx="385.4" cy="333.8" r="1.2"/>
<circle cx="387.6" cy="329.4" r="1.2"/>
<circle cx="389.4" cy="330.5" r="1.2"/>
<circle cx="390.5" cy="343.7" r="1.2"/>
<circle cx="391.6" cy="332.7" r="1.2"/>
<circle cx="392.7" cy="338.2" r="1.2"/>
<circle cx="394.2" cy="345.9" r="1.2"/>
<circle cx="395.9" cy="349.2" r="1.2"/>
<circle cx="397.5" cy="355.8" r="1.2"/>
<circle cx="398.6" cy="356.9" r="1.2"/>
<circle cx="399.7" cy="340.4" r="1.2"/>
<circle cx="400.8" cy="339.3" r="1.2"/>
<circle cx="401.9" cy="326.1" r="1.2"/>
<circle cx="403.0" cy="314.1" r="1.2"/>
<circle cx="404.1" cy="293.2" r="1.2"/>
<circle cx="405.2" cy="270.3" r="1.2"/>
<circle cx="406.0" cy="259.6" r="1.2"/>
<circle cx="406.9" cy="253.6" r="1.2"/>
<circle cx="408.0" cy="256.3" r="1.2"/>
<circle cx="409.1" cy="264.0" r="1.2"/>
<circle cx="409.6" cy="271.0" r="1.2"/>
<circle cx="410.2" cy="286.6" r="1.2"/>
<circle cx="411.1" cy="297.6" r="1.2"/>
<circle cx="412.2" cy="295.4" r="1.2"/>
<circle cx="413.5" cy="304.2" r="1.2"/>
<circle cx="415.0" cy="308.6" r="1.2"/>
<circle cx="416.1" cy="322.8" r="1.2"/>
<circle cx="417.2" cy="344.8" r="1.2"/>
<circle cx="418.3" cy="355.8" r="1.2"/>
<circle cx="419.4" cy="367.8" r="1.2"/>
<circle cx="420.5" cy="370.0" r="1.2"/>
<circle cx="421.8" cy="357.5" r="1.2"/>
<circle cx="423.2" cy="349.2" r="1.2"/>
<circle cx="424.5" cy="347.0" r="1.2"/>
<circle cx="426.0" cy="343.7" r="1.2"/>
<circle cx="427.1" cy="313.0" r="1.2"/>
<circle cx="428.0" cy="281.6" r="1.2"/>
<circle cx="428.9" cy="258.0" r="1.2"/>
<circle cx="430.0" cy="250.8" r="1.2"/>
<circle cx="431.0" cy="261.8" r="1.2"/>
<circle cx="432.1" cy="266.2" r="1.2"/>
<circle cx="433.2" cy="270.5" r="1.2"/>
<circle cx="434.1" cy="289.9" r="1.2"/>
<circle cx="435.0" cy="296.5" r="1.2"/>
<circle cx="436.8" cy="291.7" r="1.2"/>
<circle cx="437.9" cy="295.4" r="1.2"/>
<circle cx="438.9" cy="313.0" r="1.2"/>
<circle cx="439.8" cy="321.8" r="1.2"/>
<circle cx="440.9" cy="313.0" r="1.2"/>
<circle cx="442.0" cy="295.4" r="1.2"/>
<circle cx="443.1" cy="278.5" r="1.2"/>
<circle cx="443.8" cy="276.5" r="1.2"/>
<circle cx="444.4" cy="277.9" r="1.2"/>
<circle cx="445.5" cy="296.5" r="1.2"/>
<circle cx="447.1" cy="305.3" r="1.2"/>
<circle cx="448.6" cy="302.0" r="1.2"/>
<circle cx="449.9" cy="300.9" r="1.2"/>
<circle cx="451.5" cy="304.2" r="1.2"/>
<circle cx="453.0" cy="307.5" r="1.2"/>
<circle cx="454.3" cy="314.5" r="1.2"/>
<circle cx="455.4" cy="277.5" r="1.2"/>
<circle cx="456.4" cy="269.2" r="1.2"/>
<circle cx="458.0" cy="256.3" r="1.2"/>
<circle cx="459.1" cy="234.3" r="1.2"/>
<circle cx="460.7" cy="225.6" r="1.2"/>
<circle cx="461.8" cy="231.0" r="1.2"/>
<circle cx="463.1" cy="239.8" r="1.2"/>
<circle cx="464.6" cy="246.4" r="1.2"/>
<circle cx="465.9" cy="255.2" r="1.2"/>
<circle cx="466.6" cy="270.0" r="1.2"/>
<circle cx="467.0" cy="287.7" r="1.2"/>
<circle cx="468.1" cy="305.3" r="1.2"/>
<circle cx="469.2" cy="316.3" r="1.2"/>
<circle cx="470.3" cy="326.1" r="1.2"/>
<circle cx="471.4" cy="333.8" r="1.2"/>
<circle cx="472.5" cy="342.6" r="1.2"/>
<circle cx="473.6" cy="351.4" r="1.2"/>
<circle cx="474.7" cy="362.3" r="1.2"/>
<circle cx="475.8" cy="371.1" r="1.2"/>
<circle cx="476.9" cy="379.9" r="1.2"/>
<circle cx="478.0" cy="386.5" r="1.2"/>
<circle cx="478.9" cy="394.2" r="1.2"/>
<circle cx="480.6" cy="392.0" r="1.2"/>
<circle cx="482.2" cy="387.6" r="1.2"/>
<circle cx="483.7" cy="385.4" r="1.2"/>
<circle cx="485.5" cy="383.2" r="1.2"/>
<circle cx="487.2" cy="382.1" r="1.2"/>
<circle cx="488.7" cy="386.5" r="1.2"/>
<circle cx="490.3" cy="388.7" r="1.2"/>
<circle cx="491.6" cy="392.6" r="1.2"/>
<circle cx="492.5" cy="368.9" r="1.2"/>
<circle cx="493.4" cy="348.7" r="1.2"/>
<circle cx="494.5" cy="337.1" r="1.2"/>
<circle cx="495.5" cy="326.1" r="1.2"/>
<circle cx="497.5" cy="322.8" r="1.2"/>
<circle cx="498.6" cy="306.4" r="1.2"/>
<circle cx="499.9" cy="302.0" r="1.2"/>
<circle cx="501.0" cy="296.1" r="1.2"/>
<circle cx="502.1" cy="282.3" r="1.2"/>
<circle cx="503.2" cy="276.6" r="1.2"/>
<circle cx="504.3" cy="293.2" r="1.2"/>
<circle cx="505.6" cy="300.9" r="1.2"/>
<circle cx="507.0" cy="311.9" r="1.2"/>
<circle cx="508.1" cy="330.5" r="1.2"/>
<circle cx="509.2" cy="320.7" r="1.2"/>
<circle cx="510.3" cy="308.6" r="1.2"/>
<circle cx="511.3" cy="284.5" r="1.2"/>
<circle cx="512.4" cy="274.4" r="1.2"/>
<circle cx="513.5" cy="281.2" r="1.2"/>
<circle cx="514.6" cy="292.1" r="1.2"/>
<circle cx="515.7" cy="287.7" r="1.2"/>
<circle cx="516.8" cy="293.2" r="1.2"/>
<circle cx="517.9" cy="286.6" r="1.2"/>
<circle cx="519.0" cy="285.6" r="1.2"/>
<circle cx="520.1" cy="289.9" r="1.2"/>
<circle cx="521.2" cy="302.0" r="1.2"/>
<circle cx="522.8" cy="302.0" r="1.2"/>
<circle cx="523.7" cy="293.2" r="1.2"/>
<circle cx="524.3" cy="272.0" r="1.2"/>
<circle cx="525.0" cy="255.2" r="1.2"/>
<circle cx="526.0" cy="227.8" r="1.2"/>
<circle cx="527.1" cy="221.2" r="1.2"/>
<circle cx="528.7" cy="206.9" r="1.2"/>
<circle cx="530.0" cy="198.1" r="1.2"/>
<circle cx="531.1" cy="214.6" r="1.2"/>
<circle cx="532.2" cy="213.0" r="1.2"/>
<circle cx="533.1" cy="219.0" r="1.2"/>
<circle cx="534.2" cy="232.2" r="1.2"/>
<circle cx="535.5" cy="254.1" r="1.2"/>
<circle cx="536.6" cy="251.9" r="1.2"/>
<circle cx="537.7" cy="243.1" r="1.2"/>
<circle cx="538.6" cy="249.7" r="1.2"/>
<circle cx="539.5" cy="270.0" r="1.2"/>
<circle cx="540.7" cy="284.5" r="1.2"/>
<circle cx="542.1" cy="279.0" r="1.2"/>
<circle cx="543.2" cy="287.7" r="1.2"/>
<circle cx="544.3" cy="300.9" r="1.2"/>
<circle cx="545.4" cy="308.6" r="1.2"/>
<circle cx="546.5" cy="311.9" r="1.2"/>
<circle cx="547.5" cy="336.0" r="1.2"/>
<circle cx="548.6" cy="356.9" r="1.2"/>
<circle cx="549.7" cy="371.1" r="1.2"/>
<circle cx="550.8" cy="384.3" r="1.2"/>
<circle cx="552.4" cy="383.8" r="1.2"/>
<circle cx="553.7" cy="382.1" r="1.2"/>
<circle cx="554.8" cy="368.9" r="1.2"/>
<circle cx="555.9" cy="364.5" r="1.2"/>
<circle cx="557.2" cy="361.2" r="1.2"/>
<circle cx="558.3" cy="350.3" r="1.2"/>
<circle cx="559.2" cy="318.5" r="1.2"/>
<circle cx="560.1" cy="294.3" r="1.2"/>
<circle cx="560.9" cy="282.3" r="1.2"/>
<circle cx="561.6" cy="274.0" r="1.2"/>
<circle cx="562.3" cy="266.2" r="1.2"/>
<circle cx="564.0" cy="259.6" r="1.2"/>
<circle cx="565.1" cy="260.7" r="1.2"/>
<circle cx="566.0" cy="274.0" r="1.2"/>
<circle cx="566.9" cy="304.2" r="1.2"/>
<circle cx="568.0" cy="309.7" r="1.2"/>
<circle cx="569.3" cy="311.9" r="1.2"/>
<circle cx="570.6" cy="314.1" r="1.2"/>
<circle cx="571.2" cy="326.1" r="1.2"/>
<circle cx="572.3" cy="299.8" r="1.2"/>
<circle cx="573.4" cy="289.5" r="1.2"/>
<circle cx="574.5" cy="287.7" r="1.2"/>
<circle cx="575.6" cy="295.4" r="1.2"/>
<circle cx="576.7" cy="289.9" r="1.2"/>
<circle cx="577.8" cy="280.0" r="1.2"/>
<circle cx="578.8" cy="273.5" r="1.2"/>
<circle cx="580.2" cy="280.0" r="1.2"/>
<circle cx="581.3" cy="287.3" r="1.2"/>
<circle cx="582.7" cy="292.1" r="1.2"/>
<circle cx="583.8" cy="304.2" r="1.2"/>
<circle cx="585.3" cy="321.8" r="1.2"/>
<circle cx="587.0" cy="325.5" r="1.2"/>
<circle cx="588.6" cy="326.1" r="1.2"/>
<circle cx="590.3" cy="325.5" r="1.2"/>
<circle cx="591.4" cy="324.0" r="1.2"/>
<circle cx="592.5" cy="309.7" r="1.2"/>
<circle cx="593.8" cy="319.6" r="1.2"/>
<circle cx="595.2" cy="327.2" r="1.2"/>
<circle cx="596.5" cy="332.7" r="1.2"/>
<circle cx="597.8" cy="339.3" r="1.2"/>
<circle cx="598.9" cy="343.7" r="1.2"/>
<circle cx="599.8" cy="352.5" r="1.2"/>
<circle cx="600.9" cy="330.5" r="1.2"/>
<circle cx="602.0" cy="324.6" r="1.2"/>
<circle cx="603.1" cy="330.5" r="1.2"/>
<circle cx="604.2" cy="340.4" r="1.2"/>
<circle cx="605.3" cy="353.6" r="1.2"/>
<circle cx="606.4" cy="345.9" r="1.2"/>
<circle cx="607.4" cy="339.3" r="1.2"/>
<circle cx="608.5" cy="331.6" r="1.2"/>
<circle cx="609.6" cy="320.7" r="1.2"/>
<circle cx="610.7" cy="284.5" r="1.2"/>
<circle cx="611.8" cy="285.6" r="1.2"/>
<circle cx="613.1" cy="296.5" r="1.2"/>
<circle cx="614.5" cy="300.9" r="1.2"/>
<circle cx="615.8" cy="296.5" r="1.2"/>
<circle cx="617.1" cy="291.0" r="1.2"/>
<circle cx="618.4" cy="279.0" r="1.2"/>
<circle cx="619.7" cy="280.1" r="1.2"/>
<circle cx="621.0" cy="287.7" r="1.2"/>
<circle cx="622.1" cy="303.1" r="1.2"/>
<circle cx="623.0" cy="320.7" r="1.2"/>
<circle cx="623.6" cy="289.9" r="1.2"/>
<circle cx="624.1" cy="250.0" r="1.2"/>
<circle cx="625.0" cy="228.9" r="1.2"/>
<circle cx="626.1" cy="230.0" r="1.2"/>
<circle cx="627.2" cy="236.5" r="1.2"/>
<circle cx="628.3" cy="249.7" r="1.2"/>
<circle cx="629.4" cy="254.1" r="1.2"/>
<circle cx="630.5" cy="261.8" r="1.2"/>
<circle cx="631.6" cy="243.1" r="1.2"/>
<circle cx="632.7" cy="230.4" r="1.2"/>
<circle cx="633.8" cy="236.5" r="1.2"/>
<circle cx="634.9" cy="248.6" r="1.2"/>
<circle cx="635.7" cy="262.0" r="1.2"/>
<circle cx="636.4" cy="278.5" r="1.2"/>
<circle cx="637.5" cy="297.6" r="1.2"/>
<circle cx="638.6" cy="291.0" r="1.2"/>
<circle cx="639.7" cy="289.5" r="1.2"/>
<circle cx="640.8" cy="276.8" r="1.2"/>
<circle cx="641.9" cy="271.4" r="1.2"/>
<circle cx="643.0" cy="275.7" r="1.2"/>
<circle cx="644.7" cy="279.0" r="1.2"/>
<circle cx="645.8" cy="288.8" r="1.2"/>
<circle cx="646.9" cy="293.2" r="1.2"/>
<circle cx="648.0" cy="300.9" r="1.2"/>
<circle cx="649.1" cy="307.5" r="1.2"/>
<circle cx="650.7" cy="320.7" r="1.2"/>
<circle cx="652.0" cy="328.3" r="1.2"/>
<circle cx="653.5" cy="333.8" r="1.2"/>
<circle cx="655.3" cy="320.7" r="1.2"/>
<circle cx="656.4" cy="310.8" r="1.2"/>
<circle cx="657.5" cy="307.5" r="1.2"/>
<circle cx="658.6" cy="266.0" r="1.2"/>
<circle cx="659.7" cy="249.7" r="1.2"/>
<circle cx="660.8" cy="245.3" r="1.2"/>
<circle cx="661.9" cy="220.1" r="1.2"/>
<circle cx="663.0" cy="213.5" r="1.2"/>
<circle cx="664.1" cy="216.8" r="1.2"/>
<circle cx="665.1" cy="226.7" r="1.2"/>
<circle cx="666.2" cy="238.7" r="1.2"/>
<circle cx="667.3" cy="245.3" r="1.2"/>
<circle cx="668.4" cy="253.0" r="1.2"/>
<circle cx="669.5" cy="260.0" r="1.2"/>
<circle cx="670.2" cy="286.6" r="1.2"/>
<circle cx="671.1" cy="300.9" r="1.2"/>
<circle cx="672.2" cy="326.1" r="1.2"/>
<circle cx="673.3" cy="348.7" r="1.2"/>
<circle cx="674.6" cy="350.3" r="1.2"/>
<circle cx="675.9" cy="354.0" r="1.2"/>
<circle cx="677.2" cy="350.3" r="1.2"/>
<circle cx="678.5" cy="349.6" r="1.2"/>
<circle cx="679.8" cy="339.3" r="1.2"/>
<circle cx="681.2" cy="331.6" r="1.2"/>
<circle cx="682.9" cy="329.9" r="1.2"/>
<circle cx="684.0" cy="297.6" r="1.2"/>
<circle cx="685.1" cy="300.9" r="1.2"/>
<circle cx="686.2" cy="304.2" r="1.2"/>
<circle cx="687.3" cy="313.0" r="1.2"/>
<circle cx="688.4" cy="317.4" r="1.2"/>
<circle cx="689.5" cy="330.5" r="1.2"/>
<circle cx="690.8" cy="339.3" r="1.2"/>
<circle cx="692.1" cy="339.3" r="1.2"/>
<circle cx="693.2" cy="324.6" r="1.2"/>
<circle cx="694.3" cy="300.9" r="1.2"/>
<circle cx="695.4" cy="305.3" r="1.2"/>
<circle cx="696.5" cy="309.7" r="1.2"/>
<circle cx="697.6" cy="302.0" r="1.2"/>
<circle cx="698.9" cy="296.5" r="1.2"/>
<circle cx="700.3" cy="294.3" r="1.2"/>
<circle cx="701.1" cy="282.3" r="1.2"/>
<circle cx="702.2" cy="274.0" r="1.2"/>
<circle cx="702.9" cy="272.7" r="1.2"/>
<circle cx="703.5" cy="277.9" r="1.2"/>
<circle cx="705.1" cy="277.9" r="1.2"/>
<circle cx="706.3" cy="270.9" r="1.2"/>
<circle cx="707.5" cy="277.9" r="1.2"/>
<circle cx="708.4" cy="294.3" r="1.2"/>
<circle cx="709.5" cy="303.1" r="1.2"/>
<circle cx="710.6" cy="305.3" r="1.2"/>
<circle cx="711.7" cy="315.2" r="1.2"/>
<circle cx="712.8" cy="322.8" r="1.2"/>
<circle cx="714.5" cy="324.6" r="1.2"/>
<circle cx="715.8" cy="297.6" r="1.2"/>
<circle cx="716.7" cy="270.2" r="1.2"/>
<circle cx="717.1" cy="268.3" r="1.2"/>
<circle cx="718.2" cy="258.5" r="1.2"/>
<circle cx="719.3" cy="269.2" r="1.2"/>
<circle cx="720.9" cy="270.3" r="1.2"/>
<circle cx="722.2" cy="250.8" r="1.2"/>
<circle cx="723.7" cy="248.6" r="1.2"/>
<circle cx="725.3" cy="245.3" r="1.2"/>
<circle cx="726.4" cy="256.3" r="1.2"/>
<circle cx="727.1" cy="264.0" r="1.2"/>
<circle cx="727.5" cy="277.2" r="1.2"/>
<circle cx="728.1" cy="268.0" r="1.2"/>
<circle cx="729.2" cy="232.2" r="1.2"/>
<circle cx="730.3" cy="215.3" r="1.2"/>
<circle cx="731.4" cy="220.1" r="1.2"/>
<circle cx="732.5" cy="225.6" r="1.2"/>
<circle cx="733.6" cy="236.5" r="1.2"/>
<circle cx="734.7" cy="242.0" r="1.2"/>
<circle cx="736.2" cy="260.2" r="1.2"/>
<circle cx="737.5" cy="270.0" r="1.2"/>
<circle cx="738.0" cy="272.4" r="1.2"/>
<circle cx="738.9" cy="287.7" r="1.2"/>
<circle cx="739.7" cy="292.1" r="1.2"/>
<circle cx="740.8" cy="306.4" r="1.2"/>
<circle cx="741.9" cy="318.5" r="1.2"/>
<circle cx="743.0" cy="326.1" r="1.2"/>
<circle cx="744.1" cy="348.1" r="1.2"/>
<circle cx="745.7" cy="349.2" r="1.2"/>
<circle cx="747.0" cy="355.8" r="1.2"/>
<circle cx="748.3" cy="358.0" r="1.2"/>
<circle cx="749.4" cy="365.6" r="1.2"/>
<circle cx="750.3" cy="371.1" r="1.2"/>
<circle cx="751.2" cy="389.8" r="1.2"/>
<circle cx="752.7" cy="391.5" r="1.2"/>
<circle cx="754.0" cy="389.8" r="1.2"/>
<circle cx="754.9" cy="370.0" r="1.2"/>
<circle cx="755.8" cy="362.3" r="1.2"/>
<circle cx="756.6" cy="351.4" r="1.2"/>
<circle cx="757.9" cy="358.4" r="1.2"/>
<circle cx="759.0" cy="356.9" r="1.2"/>
<circle cx="759.9" cy="345.2" r="1.2"/>
<circle cx="761.0" cy="336.0" r="1.2"/>
<circle cx="762.1" cy="307.5" r="1.2"/>
<circle cx="763.0" cy="305.3" r="1.2"/>
<circle cx="763.9" cy="297.2" r="1.2"/>
<circle cx="765.0" cy="308.6" r="1.2"/>
<circle cx="766.1" cy="324.0" r="1.2"/>
<circle cx="767.2" cy="332.7" r="1.2"/>
<circle cx="768.7" cy="333.8" r="1.2"/>
<circle cx="769.8" cy="329.4" r="1.2"/>
<circle cx="771.1" cy="327.2" r="1.2"/>
<circle cx="772.7" cy="326.1" r="1.2"/>
<circle cx="773.8" cy="315.2" r="1.2"/>
<circle cx="774.6" cy="303.8" r="1.2"/>
<circle cx="775.7" cy="315.2" r="1.2"/>
<circle cx="776.8" cy="309.7" r="1.2"/>
<circle cx="778.1" cy="307.1" r="1.2"/>
<circle cx="779.9" cy="307.5" r="1.2"/>
<circle cx="780.8" cy="291.0" r="1.2"/>
<circle cx="781.9" cy="292.1" r="1.2"/>
<circle cx="783.0" cy="296.5" r="1.2"/>
<circle cx="784.1" cy="313.0" r="1.2"/>
<circle cx="785.2" cy="326.1" r="1.2"/>
<circle cx="786.3" cy="340.0" r="1.2"/>
<circle cx="787.4" cy="360.1" r="1.2"/>
<circle cx="788.5" cy="355.8" r="1.2"/>
<circle cx="789.6" cy="348.7" r="1.2"/>
<circle cx="790.6" cy="331.6" r="1.2"/>
<circle cx="791.7" cy="325.0" r="1.2"/>
<circle cx="793.1" cy="326.1" r="1.2"/>
<circle cx="794.4" cy="337.1" r="1.2"/>
<circle cx="795.3" cy="321.8" r="1.2"/>
<circle cx="796.6" cy="320.2" r="1.2"/>
<circle cx="797.7" cy="298.7" r="1.2"/>
<circle cx="798.8" cy="274.2" r="1.2"/>
<circle cx="799.9" cy="254.1" r="1.2"/>
<circle cx="801.0" cy="245.3" r="1.2"/>
<circle cx="801.8" cy="245.3" r="1.2"/>
<circle cx="803.1" cy="229.5" r="1.2"/>
<circle cx="804.2" cy="208.5" r="1.2"/>
<circle cx="805.3" cy="193.8" r="1.2"/>
<circle cx="806.2" cy="187.2" r="1.2"/>
<circle cx="807.3" cy="171.8" r="1.2"/>
<circle cx="808.4" cy="175.1" r="1.2"/>
<circle cx="809.3" cy="149.9" r="1.2"/>
<circle cx="810.4" cy="145.5" r="1.2"/>
<circle cx="811.5" cy="156.5" r="1.2"/>
<circle cx="812.6" cy="157.1" r="1.2"/>
<circle cx="813.7" cy="149.9" r="1.2"/>
</g>
<path d="M60.0,394.1 L61.1,389.3 L62.2,386.7 L63.3,383.5 L64.4,382.9 L65.5,381.9 L66.6,380.7 L67.7,380.6 L68.8,379.3 L69.9,379.3 L71.0,378.2 L72.1,377.6 L73.2,377.6 L74.3,377.8 L75.4,376.3 L76.5,376.0 L77.6,376.3 L78.7,376.6 L79.8,375.8 L80.9,375.3 L82.0,375.9 L83.1,374.3 L84.2,375.1 L85.3,373.6 L86.4,372.8 L87.5,372.2 L88.6,371.8 L89.7,371.8 L90.8,370.5 L91.9,370.8 L93.0,370.7 L94.1,370.0 L95.2,370.0 L96.3,369.1 L97.4,368.8 L98.5,369.2 L99.6,370.4 L100.7,370.5 L101.8,370.3 L102.9,370.6 L104.0,370.3 L105.1,370.0 L106.2,370.6 L107.3,370.3 L108.4,369.5 L109.5,369.9 L110.6,369.7 L111.7,370.1 L112.8,369.8 L113.9,369.4 L115.0,370.9 L116.1,370.0 L117.2,370.9 L118.3,371.9 L119.4,370.3 L120.5,369.7 L121.6,368.8 L122.7,369.9 L123.8,370.2 L124.9,370.1 L126.0,370.7 L127.1,370.1 L128.2,370.8 L129.3,370.8 L130.4,370.5 L131.5,369.9 L132.6,370.0 L133.7,369.7 L134.8,369.0 L135.9,369.4 L137.0,368.7 L138.1,369.8 L139.2,369.9 L140.3,370.6 L141.4,370.5 L142.5,369.8 L143.6,369.9 L144.7,370.1 L145.8,368.9 L146.9,369.3 L148.0,368.7 L149.1,368.4 L150.2,368.5 L151.3,370.0 L152.4,369.4 L153.5,369.9 L154.6,370.5 L155.7,371.6 L156.8,370.4 L157.9,370.8 L159.0,370.8 L160.1,371.2 L161.2,370.9 L162.3,370.8 L163.4,369.8 L164.5,369.9 L165.6,370.1 L166.7,371.3 L167.8,371.8 L168.9,371.0 L170.0,371.4 L171.1,371.7 L172.2,371.9 L173.3,372.4 L174.4,372.7 L175.5,372.4 L176.6,372.1 L177.7,372.9 L178.8,373.0 L179.9,373.4 L181.0,373.0 L182.1,371.5 L183.2,370.1 L184.3,370.7 L185.4,371.4 L186.5,371.0 L187.6,372.9 L188.7,373.3 L189.8,372.6 L190.9,371.4 L192.0,369.8 L193.1,368.8 L194.2,368.9 L195.3,370.4 L196.4,370.2 L197.5,370.9 L198.6,371.7 L199.7,372.3 L200.8,372.3 L201.9,371.5 L203.0,371.1 L204.1,370.9 L205.2,370.5 L206.3,370.5 L207.4,370.4 L208.5,372.1 L209.6,372.1 L210.7,371.9 L211.8,372.5 L212.9,373.0 L214.0,372.9 L215.1,372.3 L216.2,373.2 L217.3,373.2 L218.4,372.2 L219.5,372.0 L220.6,371.2 L221.7,371.0 L222.8,371.6 L223.9,371.7 L225.0,372.7 L226.1,372.0 L227.2,372.0 L228.3,373.6 L229.4,372.8 L230.5,372.0 L231.6,372.5 L232.7,371.5 L233.8,372.1 L234.9,372.6 L236.0,372.3 L237.1,371.9 L238.2,371.2 L239.3,371.3 L240.4,371.0 L241.5,371.8 L242.6,371.4 L243.7,371.8 L244.8,371.1 L245.9,370.9 L247.0,371.7 L248.1,371.9 L249.2,371.7 L250.3,371.6 L251.4,371.6 L252.5,371.5 L253.6,371.8 L254.7,373.5 L255.8,373.4 L256.9,372.7 L258.0,372.5 L259.1,372.8 L260.2,372.6 L261.3,373.1 L262.4,373.4 L263.5,372.6 L264.6,373.2 L265.7,373.2 L266.8,373.1 L267.9,372.4 L269.0,372.3 L270.1,372.5 L271.2,372.6 L272.3,372.8 L273.4,373.8 L274.5,374.6 L275.6,374.9 L276.7,374.8 L277.8,375.2 L278.9,374.9 L280.0,373.4 L281.1,373.7 L282.2,373.6 L283.3,373.0 L284.4,372.4 L285.5,371.9 L286.6,371.4 L287.7,372.2 L288.8,371.4 L289.9,372.1 L291.0,372.8 L292.1,372.4 L293.2,373.0 L294.3,374.3 L295.4,373.6 L296.5,372.4 L297.6,371.9 L298.7,371.5 L299.8,372.2 L300.9,372.3 L302.0,371.5 L303.1,372.7 L304.2,373.2 L305.3,372.9 L306.4,372.7 L307.5,372.6 L308.6,371.7 L309.7,371.2 L310.8,372.3 L311.9,371.4 L313.0,370.9 L314.1,371.2 L315.2,370.1 L316.3,370.9 L317.4,370.9 L318.5,370.1 L319.6,370.3 L320.7,370.5 L321.8,370.5 L322.9,371.1 L324.0,370.7 L325.1,370.7 L326.2,370.0 L327.3,370.9 L328.4,369.7 L329.5,369.6 L330.6,369.5 L331.7,370.4 L332.8,370.1 L333.9,371.3 L335.0,371.1 L336.1,370.9 L337.2,370.7 L338.3,369.7 L339.4,370.1 L340.5,370.0 L341.6,369.9 L342.7,371.4 L343.8,370.7 L344.9,371.3 L346.0,372.0 L347.1,372.1 L348.2,372.2 L349.3,372.9 L350.4,373.4 L351.5,374.1 L352.6,372.8 L353.7,373.3 L354.8,372.6 L355.9,372.4 L357.0,372.9 L358.1,372.2 L359.2,372.1 L360.3,372.7 L361.4,373.3 L362.5,372.9 L363.6,373.4 L364.7,373.0 L365.8,372.7 L366.9,372.6 L368.0,371.9 L369.1,371.7 L370.2,371.4 L371.3,371.8 L372.4,371.8 L373.5,372.4 L374.6,372.9 L375.7,372.2 L376.8,373.0 L377.9,373.6 L379.0,373.5 L380.1,372.5 L381.2,372.5 L382.3,373.1 L383.4,372.6 L384.5,372.9 L385.6,372.6 L386.7,373.0 L387.8,372.8 L388.9,372.5 L390.0,371.0 L391.1,371.4 L392.2,371.0 L393.3,370.6 L394.4,372.1 L395.5,372.6 L396.6,371.8 L397.7,373.3 L398.8,372.8 L399.9,373.0 L401.0,373.9 L402.1,373.7 L403.2,372.8 L404.3,373.3 L405.4,373.5 L406.5,373.4 L407.6,373.2 L408.7,373.2 L409.8,373.6 L410.9,372.4 L412.0,373.0 L413.1,372.6 L414.2,371.8 L415.3,372.2 L416.4,372.9 L417.5,373.0 L418.6,372.6 L419.7,374.2 L420.8,374.2 L421.9,374.6 L423.0,373.4 L424.1,373.8 L425.2,373.6 L426.3,374.8 L427.4,374.2 L428.5,373.8 L429.6,373.6 L430.7,373.6 L431.8,372.9 L432.9,372.0 L434.0,371.8 L435.1,372.9 L436.2,372.5 L437.3,372.8 L438.4,372.0 L439.5,372.0 L440.6,373.1 L441.7,372.8 L442.8,372.0 L443.9,373.1 L445.0,372.4 L446.1,372.5 L447.2,371.2 L448.3,372.1 L449.4,371.0 L450.5,372.3 L451.6,371.8 L452.7,371.7 L453.8,372.1 L454.9,372.7 L456.0,371.8 L457.1,371.6 L458.2,371.7 L459.3,370.8 L460.4,370.1 L461.5,369.7 L462.6,369.1 L463.7,369.0 L464.8,369.4 L465.9,369.6 L467.0,370.5 L468.1,370.0 L469.2,370.5 L470.3,370.2 L471.4,370.7 L472.5,370.3 L473.6,370.4 L474.7,369.8 L475.8,370.7 L476.9,370.2 L478.0,369.4 L479.1,369.6 L480.2,370.1 L481.3,369.2 L482.4,370.6 L483.5,370.3 L484.6,370.7 L485.7,371.5 L486.8,371.2 L487.9,371.7 L489.0,372.3 L490.1,373.0 L491.2,372.5 L492.3,373.6 L493.4,373.9 L494.5,374.2 L495.6,374.2 L496.7,374.6 L497.8,374.3 L498.9,373.9 L500.0,373.3 L501.1,373.8 L502.2,372.6 L503.3,372.0 L504.4,371.3 L505.5,372.1 L506.6,372.0 L507.7,371.5 L508.8,370.8 L509.9,370.6 L511.0,370.5 L512.1,370.9 L513.2,371.3 L514.3,372.6 L515.4,373.2 L516.5,375.2 L517.6,375.7 L518.7,374.5 L519.8,373.5 L520.9,374.0 L522.0,372.5 L523.1,372.2 L524.2,371.9 L525.3,372.7 L526.4,373.0 L527.5,373.3 L528.6,373.0 L529.7,373.7 L530.8,373.1 L531.9,373.7 L533.0,373.5 L534.1,373.6 L535.2,372.7 L536.3,372.4 L537.4,372.5 L538.5,372.1 L539.6,372.3 L540.7,371.9 L541.8,372.1 L542.9,372.2 L544.0,372.5 L545.1,373.0 L546.2,372.5 L547.3,372.6 L548.4,373.9 L549.5,372.8 L550.6,373.7 L551.7,373.6 L552.8,372.8 L553.9,374.0 L555.0,374.2 L556.1,373.8 L557.2,374.0 L558.3,374.2 L559.4,373.3 L560.5,374.0 L561.6,374.1 L562.7,374.7 L563.8,374.8 L564.9,374.9 L566.0,374.7 L567.1,375.1 L568.2,374.5 L569.3,374.2 L570.4,373.2 L571.5,372.7 L572.6,372.5 L573.7,372.6 L574.8,372.0 L575.9,372.7 L577.0,372.0 L578.1,371.8 L579.2,371.4 L580.3,371.2 L581.4,370.9 L582.5,370.5 L583.6,372.1 L584.7,372.4 L585.8,372.4 L586.9,372.8 L588.0,373.3 L589.1,372.5 L590.2,373.2 L591.3,372.1 L592.4,371.5 L593.5,371.5 L594.6,371.9 L595.7,370.8 L596.8,371.2 L597.9,371.6 L599.0,371.2 L600.1,371.5 L601.2,372.0 L602.3,372.7 L603.4,373.2 L604.5,373.3 L605.6,373.7 L606.7,373.1 L607.8,373.3 L608.9,373.6 L610.0,374.5 L611.1,373.9 L612.2,374.4 L613.3,373.7 L614.4,373.9 L615.5,374.0 L616.6,374.2 L617.7,373.9 L618.8,373.4 L619.9,372.5 L621.0,372.4 L622.1,371.9 L623.2,371.5 L624.3,370.6 L625.4,371.4 L626.5,370.0 L627.6,370.9 L628.7,370.5 L629.8,368.9 L630.9,369.6 L632.0,370.8 L633.1,371.8 L634.2,371.7 L635.3,372.1 L636.4,372.5 L637.5,373.7 L638.6,372.7 L639.7,373.4 L640.8,372.9 L641.9,373.6 L643.0,374.3 L644.1,373.3 L645.2,374.7 L646.3,374.6 L647.4,375.5 L648.5,375.6 L649.6,375.3 L650.7,376.2 L651.8,374.8 L652.9,373.4 L654.0,372.7 L655.1,372.7 L656.2,371.9 L657.3,371.5 L658.4,371.6 L659.5,372.2 L660.6,372.5 L661.7,373.7 L662.8,372.8 L663.9,374.1 L665.0,374.3 L666.1,373.3 L667.2,374.6 L668.3,374.3 L669.4,374.7 L670.5,373.8 L671.6,374.1 L672.7,374.3 L673.8,375.4 L674.9,375.0 L676.0,374.8 L677.1,375.1 L678.2,375.1 L679.3,374.7 L680.4,374.4 L681.5,375.2 L682.6,374.1 L683.7,374.7 L684.8,373.4 L685.9,373.1 L687.0,373.3 L688.1,372.8 L689.2,373.1 L690.3,374.0 L691.4,373.9 L692.5,373.8 L693.6,373.5 L694.7,373.9 L695.8,373.8 L696.9,372.9 L698.0,372.9 L699.1,371.6 L700.2,372.4 L701.3,371.7 L702.4,371.9 L703.5,371.4 L704.6,371.0 L705.7,370.9 L706.8,372.6 L707.9,371.7 L709.0,372.5 L710.1,372.7 L711.2,372.9 L712.3,373.9 L713.4,374.3 L714.5,373.0 L715.6,373.4 L716.7,372.6 L717.8,372.8 L718.9,372.3 L720.0,371.8 L721.1,371.6 L722.2,371.7 L723.3,373.1 L724.4,372.7 L725.5,372.6 L726.6,373.9 L727.7,374.3 L728.8,373.5 L729.9,372.9 L731.0,372.8 L732.1,372.5 L733.2,372.7 L734.3,372.2 L735.4,372.2 L736.5,372.1 L737.6,372.4 L738.7,372.7 L739.8,372.3 L740.9,371.7 L742.0,371.5 L743.1,371.5 L744.2,371.1 L745.3,370.9 L746.4,370.4 L747.5,370.7 L748.6,371.7 L749.7,370.4 L750.8,370.9 L751.9,371.0 L753.0,371.3 L754.1,370.3 L755.2,370.7 L756.3,371.1 L757.4,371.7 L758.5,372.2 L759.6,373.4 L760.7,373.7 L761.8,373.8 L762.9,372.5 L764.0,372.4 L765.1,373.4 L766.2,373.6 L767.3,372.9 L768.4,373.2 L769.5,372.6 L770.6,373.5 L771.7,374.6 L772.8,374.7 L773.9,375.0 L775.0,375.5 L776.1,374.6 L777.2,374.2 L778.3,373.8 L779.4,373.9 L780.5,373.7 L781.6,373.6 L782.7,372.9 L783.8,372.9 L784.9,373.6 L786.0,373.5 L787.1,374.1 L788.2,373.8 L789.3,374.8 L790.4,373.6 L791.5,374.4 L792.6,373.6 L793.7,372.8 L794.8,372.2 L795.9,372.1 L797.0,372.6 L798.1,372.6 L799.2,371.7 L800.3,371.6 L801.4,372.2 L802.5,372.2 L803.6,371.9 L804.7,371.6 L805.8,372.5 L806.9,372.1 L808.0,372.9 L809.1,373.6 L810.2,374.8 L811.3,374.7 L812.4,374.7 L813.5,373.5" fill="none" stroke="#e4ece4" stroke-width="2.45" stroke-linejoin="round" stroke-linecap="round"/>
<rect x="325.4" y="124.6" width="22.9" height="6.6" fill="#4caf50" fill-opacity="0.27" stroke="#4caf50" stroke-opacity="0.72" stroke-width="0.7"/>
<rect x="385.7" y="124.6" width="22.9" height="6.6" fill="#4caf50" fill-opacity="0.27" stroke="#86a58b" stroke-opacity="0.5" stroke-width="0.7" stroke-dasharray="2.87 2.87"/>
<rect x="472.6" y="124.3" width="23.3" height="7.2" fill="#c4c8ce"/>
<text x="52.9" y="139.1" text-anchor="end" fill="#c3c7cc" stroke="#c3c7cc" font-size="6.90">2.80 TH/s</text>
<text x="819.9" y="139.1" text-anchor="start" fill="#c3c7cc" stroke="#c3c7cc" font-size="6.90">80°C</text>
<text x="52.9" y="183.4" text-anchor="end" fill="#c3c7cc" stroke="#c3c7cc" font-size="6.90">2.60 TH/s</text>
<text x="819.9" y="183.4" text-anchor="start" fill="#c3c7cc" stroke="#c3c7cc" font-size="6.90">75°C</text>
<text x="52.9" y="227.6" text-anchor="end" fill="#c3c7cc" stroke="#c3c7cc" font-size="6.90">2.40 TH/s</text>
<text x="819.9" y="227.6" text-anchor="start" fill="#c3c7cc" stroke="#c3c7cc" font-size="6.90">70°C</text>
<text x="52.9" y="271.8" text-anchor="end" fill="#c3c7cc" stroke="#c3c7cc" font-size="6.90">2.20 TH/s</text>
<text x="819.9" y="271.8" text-anchor="start" fill="#c3c7cc" stroke="#c3c7cc" font-size="6.90">65°C</text>
<text x="52.9" y="316.1" text-anchor="end" fill="#c3c7cc" stroke="#c3c7cc" font-size="6.90">2.00 TH/s</text>
<text x="819.9" y="316.1" text-anchor="start" fill="#c3c7cc" stroke="#c3c7cc" font-size="6.90">60°C</text>
<text x="52.9" y="360.3" text-anchor="end" fill="#c3c7cc" stroke="#c3c7cc" font-size="6.90">1.80 TH/s</text>
<text x="819.9" y="360.3" text-anchor="start" fill="#c3c7cc" stroke="#c3c7cc" font-size="6.90">55°C</text>
<text x="52.9" y="404.6" text-anchor="end" fill="#c3c7cc" stroke="#c3c7cc" font-size="6.90">1.60 TH/s</text>
<text x="819.9" y="404.6" text-anchor="start" fill="#c3c7cc" stroke="#c3c7cc" font-size="6.90">50°C</text>
<text x="374.5" y="414.9" text-anchor="middle" fill="#c3c7cc" stroke="#c3c7cc" font-size="6.90">10PM</text>
<text x="351.8" y="130.4" text-anchor="start" fill="#e4e6e9" stroke="#e4e6e9" font-size="6.90">Hashrate</text>
<text x="412.1" y="130.4" text-anchor="start" fill="#e4e6e9" stroke="#e4e6e9" font-size="6.90">Average Hashrate</text>
<text x="498.9" y="130.4" text-anchor="start" fill="#e4e6e9" stroke="#e4e6e9" font-size="6.90">ASIC Temp</text>
</svg>
<svg class="chart" width="866" height="625" viewBox="0 0 866 625">
<rect x="22.00" y="511.25" width="387.00" height="4.05" fill="#e4e8ec"/><rect x="22.00" y="511.25" width="264.10" height="4.05" fill="#4caf50"/>
<rect x="22.00" y="539.95" width="387.00" height="4.05" fill="#e4e8ec"/><rect x="22.00" y="539.95" width="359.00" height="4.05" fill="#4caf50"/><rect x="372.30" y="539.95" width="1.4" height="4.05" fill="#d9f2da"/>
<rect x="22.00" y="568.30" width="387.00" height="4.05" fill="#e4e8ec"/><rect x="22.00" y="568.30" width="387.00" height="4.05" fill="#4caf50"/>
<rect x="22.00" y="596.90" width="387.00" height="4.05" fill="#e4e8ec"/><rect x="22.00" y="596.90" width="276.90" height="4.05" fill="#4caf50"/>
<rect x="450.00" y="511.25" width="387.20" height="4.05" fill="#e4e8ec"/><rect x="450.00" y="511.25" width="274.90" height="4.05" fill="#4caf50"/>
<rect x="450.00" y="539.95" width="387.20" height="4.05" fill="#e4e8ec"/><rect x="450.00" y="539.95" width="193.60" height="4.05" fill="#4caf50"/>
<rect x="450.00" y="568.30" width="387.20" height="4.05" fill="#e4e8ec"/><rect x="450.00" y="568.30" width="309.50" height="4.05" fill="#4caf50"/>
</svg>
<span id="t0" class="tx" style="left:21.80px;transform-origin:0 0;top:22.87px;font-size:8.30px;color:#c2c6cb;font-weight:400;-webkit-text-stroke-width:0.20px;transform:scaleX(0.9416)">Hash Rate</span>
<span id="t1" class="tx" style="left:22.39px;transform-origin:0 0;top:41.76px;font-size:10.80px;color:#ffffff;font-weight:700;-webkit-text-stroke-width:0.10px;transform:scaleX(0.8645)">2.74 TH/s</span>
<span id="t2" class="tx" style="left:21.68px;transform-origin:0 0;top:63.27px;font-size:8.30px;color:#4caf50;font-weight:400;-webkit-text-stroke-width:0.20px;transform:scaleX(0.9086)">1.95 TH/s</span>
<span id="t3" class="tx" style="left:56.62px;transform-origin:0 0;top:63.27px;font-size:8.30px;color:#c2c6cb;font-weight:400;-webkit-text-stroke-width:0.20px;transform:scaleX(0.9906)">expected</span>
<span id="t4" class="tx" style="left:235.71px;transform-origin:0 0;top:22.87px;font-size:8.30px;color:#c2c6cb;font-weight:400;-webkit-text-stroke-width:0.20px;transform:scaleX(1.0027)">Efficiency</span>
<span id="t5" class="tx" style="left:235.92px;transform-origin:0 0;top:41.76px;font-size:10.80px;color:#ffffff;font-weight:700;-webkit-text-stroke-width:0.10px;transform:scaleX(0.8503)">12.49</span>
<span id="t6" class="tx" style="left:262.41px;transform-origin:0 0;top:43.87px;font-size:8.30px;color:#ffffff;font-weight:700;-webkit-text-stroke-width:0.10px;transform:scaleX(0.9515)">J/TH</span>
<span id="t7" class="tx" style="left:235.97px;transform-origin:0 0;top:63.27px;font-size:8.30px;color:#4caf50;font-weight:400;-webkit-text-stroke-width:0.20px;transform:scaleX(0.8326)">17.56</span>
<span id="t8" class="tx" style="left:255.30px;transform-origin:0 0;top:64.88px;font-size:6.40px;color:#4caf50;font-weight:400;-webkit-text-stroke-width:0.20px;transform:scaleX(1.0431)">J/TH</span>
<span id="t9" class="tx" style="left:271.10px;transform-origin:0 0;top:63.27px;font-size:8.30px;color:#c2c6cb;font-weight:400;-webkit-text-stroke-width:0.20px;transform:scaleX(0.9955)">expected</span>
<span id="t10" class="tx" style="left:450.23px;transform-origin:0 0;top:22.87px;font-size:8.30px;color:#c2c6cb;font-weight:400;-webkit-text-stroke-width:0.20px;transform:scaleX(0.9483)">Shares</span>
<span id="t11" class="tx" style="left:450.29px;transform-origin:0 0;top:41.76px;font-size:10.80px;color:#ffffff;font-weight:700;-webkit-text-stroke-width:0.10px;transform:scaleX(0.8784)">1,366</span>
<span id="t12" class="tx" style="left:450.38px;transform-origin:0 0;top:63.27px;font-size:8.30px;color:#e5483d;font-weight:400;-webkit-text-stroke-width:0.20px;transform:scaleX(0.6615)">11</span>
<span id="t13" class="tx" style="left:457.48px;transform-origin:0 0;top:63.27px;font-size:8.30px;color:#c2c6cb;font-weight:400;-webkit-text-stroke-width:0.20px;transform:scaleX(1.0057)">rejected</span>
<span id="t14" class="tx" style="left:488.75px;transform-origin:0 0;top:63.27px;font-size:8.30px;color:#f0f2f4;font-weight:400;-webkit-text-stroke-width:0.20px;transform:scaleX(1.0184)">(0.80%)</span>
<span id="t15" class="tx" style="left:664.03px;transform-origin:0 0;top:22.87px;font-size:8.30px;color:#c2c6cb;font-weight:400;-webkit-text-stroke-width:0.20px;transform:scaleX(1.0167)">Best Difficulty</span>
<span id="t16" class="tx" style="left:663.93px;transform-origin:0 0;top:41.76px;font-size:10.80px;color:#ffffff;font-weight:700;-webkit-text-stroke-width:0.10px;transform:scaleX(0.8211)">3.61G</span>
<span id="t17" class="tx" style="left:690.53px;transform-origin:0 0;top:43.13px;font-size:9.30px;color:#c2c6cb;font-weight:400;-webkit-text-stroke-width:0.20px;transform:scaleX(1.1232)">all-time best</span>
<span id="t18" class="tx" style="left:664.48px;transform-origin:0 0;top:63.27px;font-size:8.30px;color:#ffffff;font-weight:700;-webkit-text-stroke-width:0.10px;transform:scaleX(1.0139)">866k</span>
<span id="t19" class="tx" style="left:684.84px;transform-origin:0 0;top:63.27px;font-size:8.30px;color:#c2c6cb;font-weight:400;-webkit-text-stroke-width:0.20px;transform:scaleX(0.9898)">since system boot</span>
<span id="t20" class="tx" style="left:197.51px;transform-origin:0 0;top:473.67px;font-size:12.20px;color:#f4f6f8;font-weight:400;-webkit-text-stroke-width:0.32px;transform:scaleX(1.0097)">Power</span>
<span id="t21" class="tx" style="left:630.22px;transform-origin:0 0;top:473.67px;font-size:12.20px;color:#f4f6f8;font-weight:400;-webkit-text-stroke-width:0.32px;transform:scaleX(0.9844)">Heat</span>
<span id="t22" class="tx" style="left:21.93px;transform-origin:0 0;top:495.26px;font-size:8.20px;color:#f4f6f8;font-weight:400;-webkit-text-stroke-width:0.32px;transform:scaleX(0.9638)">Power</span>
<span id="t23" class="tx" style="left:21.87px;transform-origin:0 0;top:523.66px;font-size:8.20px;color:#f4f6f8;font-weight:400;-webkit-text-stroke-width:0.32px;transform:scaleX(0.9875)">Input Voltage</span>
<span id="t24" class="tx" style="left:22.16px;transform-origin:0 0;top:552.36px;font-size:8.20px;color:#f4f6f8;font-weight:400;-webkit-text-stroke-width:0.32px;transform:scaleX(0.9310)">ASIC Frequency</span>
<span id="t25" class="tx" style="left:22.00px;transform-origin:0 0;top:580.76px;font-size:8.20px;color:#f4f6f8;font-weight:400;-webkit-text-stroke-width:0.32px;transform:scaleX(0.9568)">Measured ASIC Voltage</span>
<span id="t26" class="tx" style="right:456.88px;transform-origin:100% 0;top:494.93px;font-size:8.70px;color:#f4f6f8;font-weight:400;-webkit-text-stroke-width:0.32px;transform:scaleX(0.9091)">34.2 W</span>
<span id="t27" class="tx" style="right:456.76px;transform-origin:100% 0;top:523.33px;font-size:8.70px;color:#f4f6f8;font-weight:400;-webkit-text-stroke-width:0.32px;transform:scaleX(0.7889)">5.1 V</span>
<span id="t28" class="tx" style="right:456.45px;transform-origin:100% 0;top:551.93px;font-size:8.70px;color:#f4f6f8;font-weight:400;-webkit-text-stroke-width:0.32px;transform:scaleX(0.9242)">955 Mhz</span>
<span id="t29" class="tx" style="right:457.32px;transform-origin:100% 0;top:580.33px;font-size:8.70px;color:#f4f6f8;font-weight:400;-webkit-text-stroke-width:0.32px;transform:scaleX(0.8531)">1.29 V</span>
<span id="t30" class="tx" style="left:368.01px;transform-origin:0 0;top:532.67px;font-size:6.30px;color:#f4f6f8;font-weight:400;-webkit-text-stroke-width:0.32px;transform:scaleX(1.0645)">5.0</span>
<span id="t31" class="tx" style="left:450.01px;transform-origin:0 0;top:495.26px;font-size:8.20px;color:#f4f6f8;font-weight:400;-webkit-text-stroke-width:0.32px;transform:scaleX(0.9515)">ASIC Temperature</span>
<span id="t32" class="tx" style="left:449.98px;transform-origin:0 0;top:523.66px;font-size:8.20px;color:#f4f6f8;font-weight:400;-webkit-text-stroke-width:0.32px;transform:scaleX(0.9795)">Voltage Regulator Temperature</span>
<span id="t33" class="tx" style="left:449.93px;transform-origin:0 0;top:552.36px;font-size:8.20px;color:#f4f6f8;font-weight:400;-webkit-text-stroke-width:0.32px;transform:scaleX(0.9252)">Fan Speed</span>
<span id="t34" class="tx" style="right:28.72px;transform-origin:100% 0;top:494.93px;font-size:8.70px;color:#f4f6f8;font-weight:400;-webkit-text-stroke-width:0.32px;transform:scaleX(0.9297)">53.3°C</span>
<span id="t35" class="tx" style="right:29.35px;transform-origin:100% 0;top:523.33px;font-size:8.70px;color:#f4f6f8;font-weight:400;-webkit-text-stroke-width:0.32px;transform:scaleX(0.9621)">60°C</span>
<span id="t36" class="tx" style="right:28.70px;transform-origin:100% 0;top:551.93px;font-size:8.70px;color:#f4f6f8;font-weight:400;-webkit-text-stroke-width:0.32px;transform:scaleX(0.9067)">80% (3148 RPM)</span>
</body></html>
